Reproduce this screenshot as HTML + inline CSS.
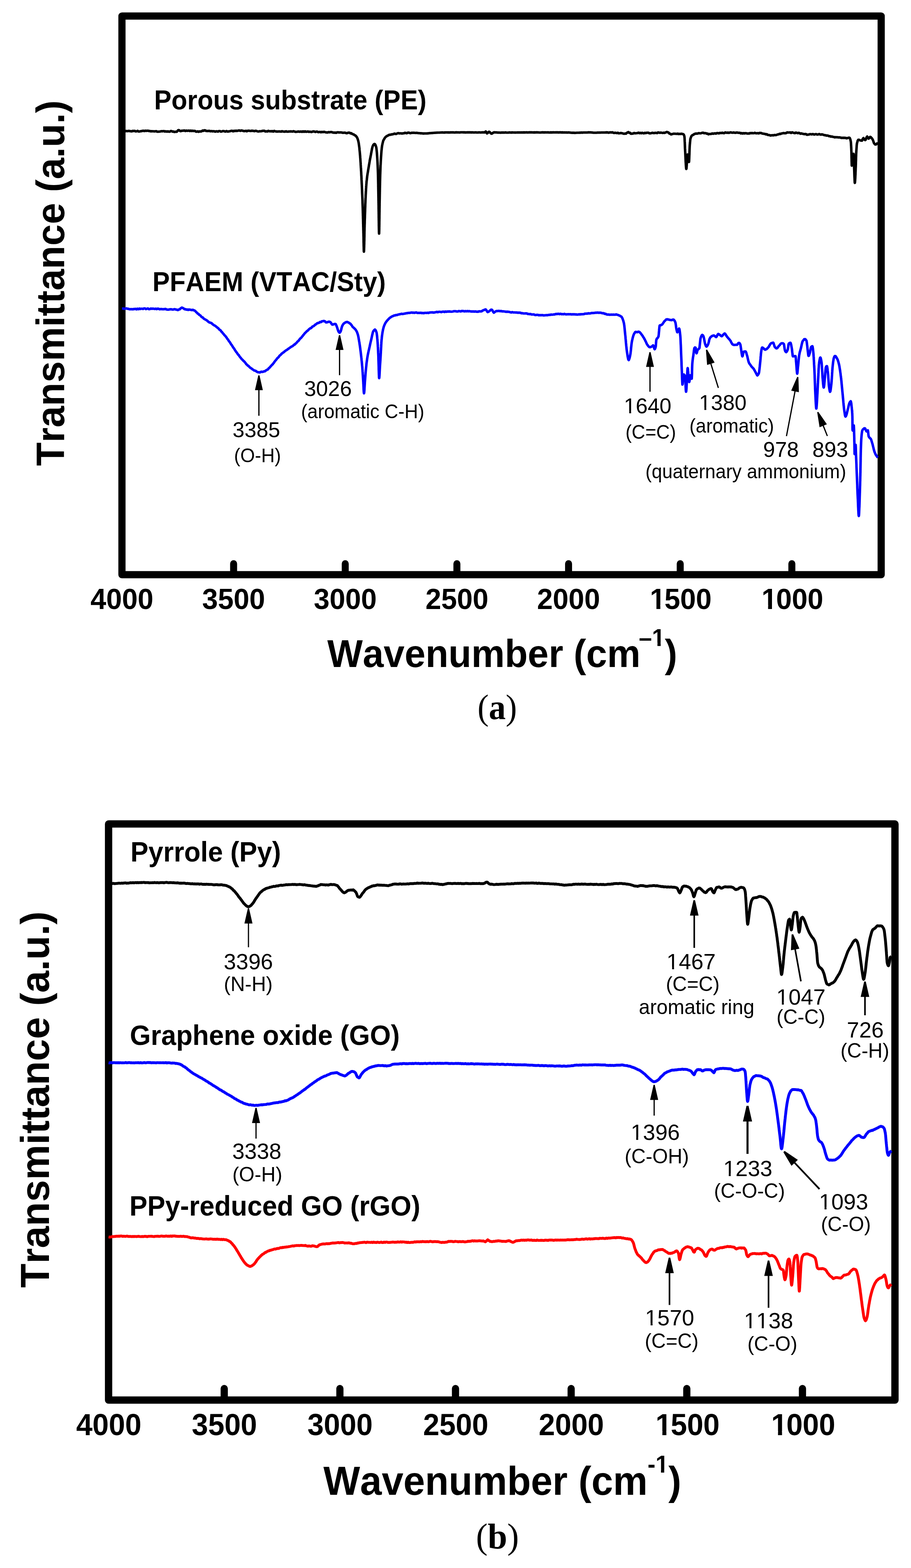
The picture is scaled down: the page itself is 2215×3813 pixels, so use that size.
<!DOCTYPE html>
<html lang="en"><head><meta charset="utf-8"><title>FTIR spectra</title>
<style>
html,body{margin:0;padding:0;background:#fff;}
body{width:2215px;height:3813px;overflow:hidden;}
svg{display:block;}
text{fill:#000;font-kerning:none;font-variant-ligatures:none;white-space:pre;}
.b{font-family:"Liberation Sans",Arial,Helvetica,sans-serif;font-weight:bold;}
.r{font-family:"Liberation Sans",Arial,Helvetica,sans-serif;font-weight:normal;}
.s{font-family:"Liberation Serif","Times New Roman",serif;font-weight:normal;}
.sb{font-family:"Liberation Serif","Times New Roman",serif;font-weight:bold;}
.cv{fill:none;stroke-linejoin:round;stroke-linecap:butt;}
.fr{fill:none;stroke:#000;stroke-linejoin:round;}
.tk{stroke:#000;stroke-linecap:round;}
.m{fill:#fff;}
</style></head><body>
<svg width="2215" height="3813" viewBox="0 0 2215 3813">
<rect width="2215" height="3813" fill="#fff"/>
<g id="chart-a">
<rect class="fr" x="296.5" y="39" width="1846" height="1358.5" stroke-width="17.5"/>
<text class="b" font-size="69.5" transform="translate(219.97 1481) scale(0.99 1)">4000</text>
<line class="tk" x1="568" y1="1395.5" x2="568" y2="1370.8" stroke-width="17"/>
<text class="b" font-size="69.5" transform="translate(491.44 1481) scale(0.99 1)">3500</text>
<line class="tk" x1="839.4" y1="1395.5" x2="839.4" y2="1370.8" stroke-width="17"/>
<text class="b" font-size="69.5" transform="translate(762.91 1481) scale(0.99 1)">3000</text>
<line class="tk" x1="1110.9" y1="1395.5" x2="1110.9" y2="1370.8" stroke-width="17"/>
<text class="b" font-size="69.5" transform="translate(1034.38 1481) scale(0.99 1)">2500</text>
<line class="tk" x1="1382.4" y1="1395.5" x2="1382.4" y2="1370.8" stroke-width="17"/>
<text class="b" font-size="69.5" transform="translate(1305.85 1481) scale(0.99 1)">2000</text>
<line class="tk" x1="1653.9" y1="1395.5" x2="1653.9" y2="1370.8" stroke-width="17"/>
<g transform="translate(1577.32 1481) scale(0.99 1)"><text class="b" font-size="69.5" dx="2.71 -2.71 0 0">1500</text><rect class="m" x="5" y="-9.18" width="13.93" height="11.26"/><rect class="m" x="28.47" y="-9.18" width="13.05" height="11.26"/></g>
<line class="tk" x1="1925.3" y1="1395.5" x2="1925.3" y2="1370.8" stroke-width="17"/>
<g transform="translate(1848.79 1481) scale(0.99 1)"><text class="b" font-size="69.5" dx="2.71 -2.71 0 0">1000</text><rect class="m" x="5" y="-9.18" width="13.93" height="11.26"/><rect class="m" x="28.47" y="-9.18" width="13.05" height="11.26"/></g>
<text class="b" font-size="67" transform="translate(374.78 266.1) scale(0.9413 1)">Porous substrate (PE)</text>
<text class="b" font-size="67" transform="translate(370.78 707.5) scale(0.9409 1)">PFAEM (VTAC/Sty)</text>
<text class="r" font-size="52" transform="translate(565.61 1062.5) scale(1 1)">3385</text>
<text class="r" font-size="47.6" transform="translate(568.94 1123.8) scale(0.961 1)">(O-H)</text>
<text class="r" font-size="52" transform="translate(739.66 963.3) scale(1 1)">3026</text>
<text class="r" font-size="47.6" transform="translate(732.01 1017.4) scale(0.961 1)">(aromatic C-H)</text>
<g transform="translate(1516.82 1005) scale(1 1)"><text class="r" font-size="52">1640</text><rect class="m" x="2.4" y="-5.44" width="10.68" height="7"/><rect class="m" x="17.67" y="-5.44" width="10.27" height="7"/></g>
<text class="r" font-size="47.6" transform="translate(1520.63 1066.5) scale(0.961 1)">(C=C)</text>
<g transform="translate(1699.57 997) scale(1 1)"><text class="r" font-size="52">1380</text><rect class="m" x="2.4" y="-5.44" width="10.68" height="7"/><rect class="m" x="17.67" y="-5.44" width="10.27" height="7"/></g>
<text class="r" font-size="47.6" transform="translate(1676.27 1051.6) scale(0.961 1)">(aromatic)</text>
<text class="r" font-size="52" transform="translate(1855.48 1110.5) scale(1 1)">978</text>
<text class="r" font-size="52" transform="translate(1975.33 1110.5) scale(1 1)">893</text>
<text class="r" font-size="47.6" transform="translate(1569.35 1163) scale(0.961 1)">(quaternary ammonium)</text>
<path class="cv" d="M296.5 318.5 298.9 318.5 301.3 318.7 303.7 319.4 306.1 318.6 308.5 318.7 310.9 318.9 313.2 318.2 315.6 318.9 318 319.1 320.4 319.5 322.8 318.2 325.2 318.6 327.6 318.3 330 319.6 332.3 319.3 334.6 318.2 336.9 319.8 339.2 319.7 341.5 319.1 343.8 319 346.2 318.2 348.5 317.9 350.8 318.7 353.1 317.9 355.4 318.1 357.7 318.1 360 317.8 362.2 318.6 364.4 318.6 366.7 319.4 368.9 319 371.1 319.3 373.3 319.2 375.6 319.6 377.8 319.3 380 319 382.4 320.3 384.7 320.3 387.1 320 389.4 319.8 391.8 319.1 394.1 319 396.5 319.1 398.8 318.7 401.2 319.9 403.5 319.3 405.9 320.1 408.2 319.3 410.6 320.3 412.9 320.1 415.3 318.6 417.6 319 420 320.2 422 319.7 424 321 426 320.6 428 320.3 429.5 320.5 431 319.3 432.5 317.2 434 316.3 436 317 438 318.8 440 318.9 442.1 317.8 444.3 318 446.4 317.6 448.6 317.4 450.7 318.6 452.9 317.5 455 318.1 457.1 317.9 459.3 317.5 461.4 318.6 463.6 317.6 465.7 318.6 467.9 317.8 470 318.5 472.1 318.3 474.3 318.6 476.4 320.1 478.6 320.1 480.7 319.4 482.9 320.6 485 319.5 487 319.6 489 319.8 491 318.8 493 317.3 495 318.2 497 316.7 499 317.1 501 318.5 503 318.4 505 318.7 507.3 318.3 509.5 318.4 511.8 319.3 514.1 318.7 516.4 319.4 518.6 319 520.9 319.2 523.2 320.1 525.5 319.3 527.7 319.4 530 320 532.3 318.7 534.6 318.7 536.9 320 539.2 319.8 541.5 318.8 543.8 318.7 546.2 319.6 548.5 320 550.8 318.6 553.1 319.9 555.4 319.8 557.7 319.2 560 318.9 562.2 318.2 564.4 318 566.7 319.4 568.9 318 571.1 318.6 573.3 317.7 575.6 318.5 577.8 318 580 317.4 582.2 317.2 584.4 318.3 586.7 317.2 588.9 317.6 591.1 318.3 593.3 318.9 595.6 318.6 597.8 318.1 600 319.2 602.4 318 604.8 317.7 607.1 318.2 609.5 318.5 611.9 317.9 614.3 318.1 616.7 318.5 619 318.9 621.4 318.1 623.8 318.5 626.2 319.5 628.6 319.7 631 319.1 633.3 319.2 635.7 319 638.1 318.3 640.5 318.1 642.9 318.1 645.2 319.7 647.6 319.3 650 319.8 652.4 318.2 654.8 319.3 657.1 319 659.5 319.5 661.9 318.8 664.3 320 666.7 318.4 669 319.3 671.4 319.6 673.8 319.9 676.2 319.7 678.6 319.6 681 319.8 683.3 320.1 685.7 319.1 688.1 319.7 690.5 320.1 692.9 320.1 695.2 319.3 697.6 320 700 320.2 702.3 319.7 704.6 319.8 706.9 319.4 709.2 319.8 711.5 319.9 713.8 319 716.2 320 718.5 320.7 720.8 320.5 723.1 320.3 725.4 319.7 727.7 320.4 730 320.1 732.3 319.9 734.6 320.7 736.9 319.3 739.2 320.6 741.5 319.3 743.8 320.4 746.2 320.2 748.5 319.7 750.8 320.6 753.1 320.3 755.4 320.5 757.7 321.1 760 320 762.3 319.6 764.6 320.1 766.8 320.9 769.1 320.1 771.4 320.1 773.7 321.4 775.9 321.1 778.2 320.8 780.5 321.6 782.8 320.7 785.1 321.4 787.3 320.6 789.6 321.1 791.9 321.8 794.2 322.1 796.4 322.1 798.7 321.3 801 321.7 803.4 321.3 805.7 321.1 808.1 321.8 810.4 322.5 812.8 322.6 815.2 322.4 817.5 322.9 819.9 321.8 822.3 321.7 824.6 322.2 827 322 829.3 322 831.7 322.4 834 322.9 836.3 322.8 838.6 322.5 841 323.6 843.3 323.9 845.6 323.1 847.9 322.6 850.2 322.8 852.2 324.5 854.3 323.9 856.3 325.7 858.4 326.5 860.4 327.2 862.2 328.9 864 329.3 865.8 331.1 867.6 333.6 868.3 334.5 869 336.5 869.7 338 870.3 340.1 871 342.5 871.7 345.7 872 346.9 872.3 348.6 872.5 350.4 872.8 352.4 873.1 354.6 873.4 356.9 873.7 359.2 874 361.9 874.2 364.5 874.5 367.2 874.8 370.2 875 372 875.1 373.8 875.3 375.9 875.5 378 875.7 380.3 875.8 382.5 876 384.9 876.2 387.4 876.3 389.8 876.5 392.4 876.7 395.1 876.9 397.5 877 400.4 877.2 403 877.3 404.9 877.4 407 877.6 409 877.7 411.1 877.8 413.2 877.9 415.3 878.1 417.5 878.2 419.7 878.3 422 878.4 424.2 878.5 426.6 878.7 428.8 878.8 431.3 878.9 433.7 879 436.2 879.2 438.6 879.3 441.1 879.4 443.7 879.5 446.3 879.7 448.9 879.8 451.5 879.9 454.2 880 456.2 880.1 458.3 880.2 460.3 880.3 462.4 880.4 464.4 880.4 466.6 880.5 468.8 880.6 471 880.7 473.2 880.8 475.4 880.9 477.8 881 480 881.1 482.5 881.2 484.8 881.3 487.2 881.4 489.8 881.4 492.2 881.5 494.8 881.6 497.4 881.7 500 881.8 502.7 881.9 505.4 882 507.4 882 509.4 882.1 511.6 882.2 513.7 882.2 515.9 882.3 518.1 882.4 520.4 882.4 522.7 882.5 525.1 882.6 527.4 882.6 529.9 882.7 532.3 882.8 534.7 882.8 537.2 882.9 539.7 882.9 542.2 883 544.6 883.1 547.1 883.1 549.7 883.2 552.1 883.3 554.6 883.3 557.1 883.4 559.6 883.5 562 883.5 564.5 883.6 566.9 883.7 569.4 883.7 572 883.8 574.9 883.9 577.9 883.9 581 884 584.1 884 587.3 884.1 590.4 884.2 593.5 884.2 596.5 884.3 599.3 884.4 602 884.4 604.4 884.5 606.5 884.5 608.4 884.6 609.9 884.7 611.1 884.7 611.8 884.8 612 884.9 611.8 884.9 611.3 885 610.5 885.1 609.4 885.1 608 885.2 606.4 885.2 604.5 885.3 602.4 885.4 600.1 885.4 597.7 885.5 595.1 885.6 592.3 885.6 589.5 885.7 586.5 885.8 583.5 885.8 580.4 885.9 577.3 886 574.2 886 571 886.1 568 886.1 564.9 886.2 561.9 886.3 559 886.3 556.2 886.4 553.5 886.5 550.9 886.5 548.6 886.6 546.4 886.7 543.8 886.8 541.2 886.8 538.5 886.9 535.9 887 533.2 887.1 530.6 887.2 528 887.2 525.5 887.3 522.8 887.4 520.3 887.5 517.8 887.6 515.2 887.7 512.8 887.7 510.4 887.8 507.9 887.9 505.6 888 503.3 888.1 501 888.1 498.8 888.2 496.7 888.3 494.5 888.4 492.5 888.5 490.4 888.5 488.5 888.6 486.7 888.7 484.9 888.8 482 889 479.2 889.1 476.5 889.2 473.8 889.4 471 889.5 468.4 889.6 465.9 889.8 463.4 889.9 461.1 890 458.7 890.2 456.5 890.3 454.4 890.4 452.3 890.6 450.5 890.7 448.7 890.8 447 891 445.3 891.1 443.8 891.4 440.5 891.8 437.6 892.1 434.8 892.4 432.1 892.7 429.3 893 426.9 893.4 424.9 893.7 422.6 894 420.7 894.4 418.6 894.7 416.7 895 414.8 895.3 412.8 895.6 411 896 408.8 896.3 407.1 896.7 404.7 897.1 402 897.5 399.8 897.9 397.6 898.3 395.2 898.7 392.9 899 390.7 899.4 388.7 899.8 386.4 900.2 384.7 900.6 382.6 901 380.5 901.4 378.5 901.9 376 902.3 373.4 902.8 370.9 903.3 368.3 903.7 366 904.2 363.6 904.6 361 905.1 359.3 905.6 357.5 906 356 906.5 354.9 907.9 352.2 909.2 350.8 910.6 350.1 911.6 350.5 912.7 352.2 913.7 354.8 914.7 357.8 914.9 358.8 915.1 359.9 915.3 361.4 915.5 363.1 915.7 365 915.9 367.2 916.2 369.6 916.4 372.1 916.6 374.7 916.8 377.7 917 380.5 917.2 383.5 917.4 386.6 917.5 388.2 917.6 389.8 917.7 391.5 917.8 393.4 917.9 395.2 918 397.2 918.1 399.4 918.2 401.6 918.3 403.8 918.4 406.3 918.5 408.9 918.6 411.5 918.7 414.3 918.8 417.1 918.9 420.2 919 423.4 919 424.9 919.1 426.6 919.1 428.4 919.2 430.3 919.2 432.3 919.3 434.4 919.3 436.6 919.4 438.9 919.4 441.2 919.5 443.6 919.5 446 919.6 448.5 919.6 451 919.6 453.6 919.7 456.2 919.7 458.8 919.8 461.5 919.8 464.1 919.9 466.8 919.9 469.5 920 472.1 920 474.8 920.1 477.3 920.1 479.9 920.2 482.4 920.2 484.9 920.2 487.2 920.3 489.7 920.3 492.3 920.4 495 920.4 497.9 920.5 500.8 920.5 503.7 920.5 506.8 920.6 509.8 920.6 513 920.7 516.1 920.7 519.3 920.8 522.5 920.8 525.6 920.8 528.7 920.9 531.8 920.9 534.9 921 537.8 921 540.8 921.1 543.6 921.1 546.3 921.1 549 921.2 551.5 921.2 553.9 921.3 556.1 921.3 558.2 921.4 560.1 921.4 561.8 921.4 563.4 921.5 564.7 921.5 565.8 921.6 566.7 921.6 567.4 921.7 567.7 921.7 567.9 921.7 567.8 921.8 567.3 921.8 566.6 921.9 565.7 921.9 564.5 921.9 563.1 922 561.5 922 559.7 922.1 557.7 922.1 555.6 922.1 553.3 922.2 550.8 922.2 548.2 922.3 545.5 922.3 542.6 922.3 539.8 922.4 536.8 922.4 533.7 922.5 530.6 922.5 527.4 922.5 524.3 922.6 521.1 922.6 517.9 922.7 514.8 922.7 511.7 922.7 508.6 922.8 505.5 922.8 502.6 922.9 499.7 922.9 496.9 922.9 494.2 923 491.7 923 489.3 923.1 487 923.1 484.9 923.2 482.2 923.2 479.5 923.3 476.7 923.3 474 923.4 471.3 923.4 468.6 923.5 466 923.5 463.3 923.6 460.7 923.6 458 923.7 455.5 923.7 453 923.8 450.5 923.9 448 923.9 445.6 924 443.3 924 441 924.1 438.7 924.1 436.5 924.2 434.4 924.2 432.4 924.3 430.5 924.3 428.5 924.4 426.8 924.4 425.1 924.5 423.4 924.6 420.4 924.7 417.4 924.8 414.6 924.9 411.8 925 409.1 925.1 406.5 925.2 404.1 925.3 401.7 925.5 399.4 925.6 397.2 925.7 395.1 925.8 393.1 925.9 391.1 926 389.3 926.1 387.4 926.2 385.7 926.3 384.1 926.4 382.4 926.6 379.5 926.8 376.7 927 373.9 927.2 371.2 927.4 368.6 927.6 366.2 927.9 364 928.1 361.8 928.3 359.8 928.5 358.1 928.7 356.5 928.9 355.1 929.1 353.9 929.7 351 930.3 348.1 930.9 346 931.4 343.6 932 341.9 932.6 340.5 933.2 339.7 934.6 337.4 936 334.8 937.5 333.3 938.9 332 940.3 331.1 942.4 329.9 944.4 328.9 946.5 327.8 948.5 327.6 950.6 327.4 952.6 326.5 954.7 326.6 957 325.9 959.3 324.9 961.5 325.6 963.8 325.6 966.1 324.4 968.4 323.7 970.6 324.4 972.9 324.3 975.2 324.2 977.6 324.8 979.9 324.1 982.3 324.3 984.6 322.8 987 323.6 989.4 323.9 991.7 322.6 994.1 322.5 996.5 323.6 998.8 323.8 1001.2 322.8 1003.5 323.1 1005.9 322.8 1008.1 323.1 1010.3 323.2 1012.5 323.1 1014.8 323.3 1017 323.7 1019.2 323.8 1021.4 324.1 1023.6 324.1 1025.8 324.2 1028.1 324.6 1030.3 324.6 1032.5 324.5 1034.8 324.5 1037.1 324.5 1039.4 324.4 1041.7 324.3 1044 323.8 1046.2 323.8 1048.5 323.5 1050.8 323.4 1053.1 323.2 1055.4 323 1057.7 322.9 1060 322.8 1062.1 322.6 1064.3 322.5 1066.4 322.5 1068.6 322.5 1070.7 322.2 1072.9 322.2 1075 322 1077.4 322.3 1079.7 322.4 1082.1 322.1 1084.5 322 1086.8 322 1089.2 322.1 1091.6 322 1093.9 322.3 1096.3 321.8 1098.7 322 1101.1 321.8 1103.4 322.1 1105.8 322.2 1108.2 321.9 1110.5 321.8 1112.9 322 1115.3 322 1117.6 322.2 1120 321.8 1122.3 321.8 1124.6 321.8 1127 321.9 1129.3 321.9 1131.6 322.1 1133.9 322 1136.2 321.9 1138.6 321.8 1140.9 321.9 1143.2 321.8 1145.5 322.1 1147.8 321.9 1150.2 322 1152.5 322.2 1154.8 322 1157.1 321.9 1159.4 322.2 1161.8 322.2 1164.1 321.9 1166.4 322 1168.7 322.2 1171 322 1173.4 321.9 1175.7 321.8 1178 322.2 1179.5 321 1181 319.8 1182 321 1183 323.3 1184 324.4 1185.7 323.6 1187.3 321.6 1189 320.4 1190.5 321 1192 322.7 1193.5 324.3 1195 325.1 1197 324.3 1199 322.8 1201 321.9 1203.3 321.9 1205.7 322 1208 322.1 1210.3 322.5 1212.7 322.4 1215 322.5 1217.3 322.6 1219.7 322.3 1222 322.4 1224.4 322.2 1226.7 322.5 1229.1 322.1 1231.4 322.5 1233.8 322.5 1236.1 322.5 1238.4 322.1 1240.8 322.2 1243.1 322.4 1245.5 322.1 1247.8 322.2 1250.2 322.2 1252.5 322.4 1254.8 322.2 1257.2 322.3 1259.5 322 1261.9 322.3 1264.2 322.1 1266.6 322.3 1268.9 321.9 1271.2 322.2 1273.6 321.9 1275.9 322.1 1278.3 322 1280.6 321.8 1283 322.2 1285.3 321.9 1287.7 321.9 1290 321.8 1292.4 321.9 1294.7 322 1297.1 322.1 1299.4 321.9 1301.8 322.1 1304.1 321.8 1306.5 321.9 1308.8 322 1311.2 322.2 1313.5 322.2 1315.9 322.1 1318.2 321.8 1320.6 321.9 1322.9 322.1 1325.3 321.9 1327.6 322 1330 322 1332.4 321.8 1334.7 322.2 1337.1 322.1 1339.4 321.9 1341.8 322.1 1344.1 321.9 1346.5 321.9 1348.8 322 1351.2 321.9 1353.5 321.9 1355.9 321.9 1358.2 322.1 1360.6 321.9 1362.9 321.8 1365.3 322.1 1367.6 321.9 1370 322.2 1372.3 322 1374.6 322.2 1376.9 322.1 1379.2 322.4 1381.5 322.1 1383.8 322.3 1386.2 322.4 1388.5 322.8 1390.8 322.9 1393.1 322.7 1395.4 322.9 1397.7 323.1 1400 323 1402.3 322.8 1404.6 322.8 1406.9 322.7 1409.2 322.6 1411.5 322.6 1413.8 322.3 1416.2 322.6 1418.5 322.3 1420.8 322.2 1423.1 322.2 1425.4 322.2 1427.7 322.2 1430 321.9 1432.2 321.9 1434.4 322 1436.7 321.9 1438.9 322.2 1441.1 322.4 1443.3 322.7 1445.6 322.7 1447.8 322.7 1450 322.7 1452.3 322.4 1454.6 322.5 1456.9 322.4 1459.2 322.5 1461.5 322.2 1463.8 322.3 1466.2 322.3 1468.5 322.3 1470.8 322.3 1473.1 322.1 1475.4 321.9 1477.7 322.1 1480 322.7 1482.2 322.1 1484.4 321.8 1486.7 322.2 1488.9 321.6 1491.1 322.8 1493.3 323.4 1495.6 322.7 1497.8 323.2 1500 323.6 1502.2 322.7 1504.4 324.2 1506.7 323.9 1508.9 323.5 1511.1 323.6 1513.3 324.1 1515.6 324.9 1517.8 325.3 1520 324.7 1522 325.1 1523.9 323.2 1525.8 322.2 1527.8 321.2 1529.8 322.9 1531.7 322.8 1533.6 325.1 1535.6 325.1 1537.7 324.9 1539.8 324.5 1541.8 323.4 1543.9 324.1 1546 324 1548.2 323.8 1550.4 323.4 1552.5 322.6 1554.7 323.9 1556.9 323 1559.1 324.1 1561.3 323 1563.5 323.7 1565.6 324.2 1567.8 323 1570 323.7 1572.3 322.8 1574.6 322.7 1576.9 322.9 1579.2 324.3 1581.5 324.2 1583.8 323.6 1586.2 322.9 1588.5 323.5 1590.8 323.6 1593.1 322.9 1595.4 323.2 1597.7 323.6 1600 322.1 1602.3 322.5 1604.6 323 1606.9 322.4 1609.1 322.9 1611.4 323.3 1613.7 322.6 1616 323.2 1617.7 322.3 1619.5 321.7 1621.2 320.9 1623.3 321.8 1625.4 322.3 1627.4 324.7 1629.5 325.3 1631.6 326.9 1633.7 326.3 1635.8 325.6 1637.9 325.1 1640 325.2 1642 325.3 1643.9 325.5 1645.9 325.5 1647.8 325 1649.8 325.9 1652.1 325.6 1654.5 325.8 1656.8 325.2 1659.2 325.7 1661.5 326.4 1662.3 327.3 1663.2 328.8 1664 331.5 1664.1 332.2 1664.2 333.4 1664.4 334.8 1664.5 336.6 1664.6 338.9 1664.7 341.3 1664.8 343.9 1665 346.6 1665.1 349.4 1665.2 352.2 1665.3 355.2 1665.4 357.9 1665.5 360.7 1665.7 363.3 1665.8 365.7 1665.9 367.9 1666.1 370.6 1666.2 373.6 1666.4 376.6 1666.5 379.7 1666.7 382.9 1666.8 386.1 1667 389.2 1667.1 392.2 1667.3 395.4 1667.5 398.2 1667.6 400.8 1667.8 403.2 1667.9 405.3 1668.1 407.2 1668.2 408.6 1668.4 409.8 1668.5 410.5 1668.7 410.8 1668.9 410.2 1669.1 409.1 1669.3 407 1669.5 404.6 1669.7 401.7 1669.9 398.3 1670.1 394.9 1670.4 391.4 1670.6 388 1670.8 384.7 1671 381.9 1671.2 379.4 1671.4 377.4 1671.6 376.1 1671.8 375.7 1672.2 376.3 1672.7 378.3 1673.1 381.6 1673.5 384.7 1673.9 388.1 1674.3 391.2 1674.8 393.2 1675.2 393.8 1675.3 393.5 1675.4 392.6 1675.5 391.3 1675.6 389.4 1675.7 387.1 1675.8 384.7 1675.9 381.8 1676 378.9 1676.2 375.8 1676.3 372.7 1676.4 369.6 1676.5 366.5 1676.6 363.7 1676.7 360.9 1676.8 358.6 1676.9 356.5 1677 354.8 1677.2 351.8 1677.5 348.7 1677.7 346.1 1678 343.5 1678.2 341.2 1678.4 339.1 1678.7 337.8 1678.9 336.8 1680.1 333.5 1681.2 331 1682.3 329.6 1683.5 328.7 1685.7 327.9 1687.8 326.1 1690 325.3 1692.2 324.7 1694.3 324.9 1696.5 324.7 1698.7 323.8 1700.9 324.1 1703.1 324.3 1705.4 323.6 1707.6 322.8 1709.8 322.9 1712 323.9 1714.1 323.7 1716.2 323.8 1718.3 325.1 1720.4 324.9 1722.5 326.6 1724.8 325.7 1727.1 325.7 1729.4 325.6 1731.7 324.5 1734 325.3 1736.3 324.5 1738.6 324.2 1740.9 325 1743.2 323.6 1745.4 323.8 1747.7 324.4 1749.9 323.4 1752.1 323.2 1754.3 323.5 1756.6 322.7 1758.8 323.8 1761 323.8 1763.3 322 1765.5 322.6 1767.7 323 1769.9 322.3 1772.2 323.2 1774.4 322.4 1776.7 321.8 1779 322.5 1781.3 322.7 1783.6 322.1 1785.9 322.7 1788.2 322.9 1790.5 322.4 1792.8 322.4 1795.1 323 1797.2 322.9 1799.3 323.1 1801.3 324.4 1803.4 323.6 1805.5 324.8 1807.8 323.7 1810.1 324.5 1812.4 323.8 1814.7 324.1 1817 324.7 1819.3 324.6 1821.6 324.6 1823.9 323.6 1826.1 324 1828.4 323.4 1830.7 324 1833 323.8 1835.3 323 1837.6 323.9 1839.9 324.1 1842.2 323.8 1844.5 324.4 1846.7 323.3 1848.9 323.4 1851.1 323.5 1853.4 324.7 1855.6 325.1 1857.8 325.5 1860 325.6 1862.3 326.9 1864.5 326.3 1866.8 328.2 1869.1 328.2 1871.4 328.7 1873.7 329.6 1875.9 329 1878.2 328.9 1880.4 329.1 1882.6 328.4 1884.7 328.5 1886.9 328.5 1889.1 327.7 1891.3 326.7 1893.5 326.6 1895.6 325.3 1897.8 325.9 1900 324.5 1902.4 324.2 1904.7 323.6 1907.1 324 1909.5 323.9 1911.8 323.4 1914.2 321.9 1916.5 322.3 1918.9 322.2 1921.2 321.9 1923.5 323.3 1925.8 321.7 1928.2 322.6 1930.5 323.2 1932.8 323.8 1935.1 322.4 1937.4 323.1 1939.6 323.8 1941.9 323 1944.1 323.7 1946.3 325.2 1948.6 324.4 1950.8 325.3 1953.1 325.6 1955.3 326.2 1957.5 325.9 1959.8 326.1 1962 327.7 1964.3 327.4 1966.6 327.3 1968.8 326.3 1971.1 326.3 1973.4 326.8 1975.7 326.1 1977.9 326.5 1980.2 327.3 1982.5 326.3 1984.8 326.2 1987.1 327.4 1989.3 326.9 1991.6 326 1993.9 326.8 1996.2 327.5 1998.4 326.7 2000.7 327.4 2003 328.2 2005 328.8 2007.1 328.7 2009.1 329.7 2011.2 329.5 2013.2 329.8 2015.5 331.1 2017.8 331 2020.1 332.2 2022.4 331.9 2024.7 332.7 2027 333 2029.3 333.9 2031.6 333.6 2033.9 333.7 2036.3 333.8 2038.6 334.3 2041 334.1 2043.3 334.4 2045.7 335.4 2048 335 2050.1 335.5 2052.1 334.8 2054.2 335.5 2056.2 335.3 2058.3 336.4 2060.1 335.8 2061.9 335.4 2063.7 334.8 2065.5 335 2066.2 335.9 2067 337.5 2067.8 340.3 2068.5 343.5 2068.6 344.1 2068.8 345.4 2068.9 346.9 2069.1 348.9 2069.2 351 2069.3 353.5 2069.5 356.1 2069.6 359 2069.8 361.9 2069.9 365.2 2070.1 368.5 2070.2 371.9 2070.3 373.8 2070.3 376.1 2070.4 378.9 2070.4 381.8 2070.5 385 2070.6 388.2 2070.6 391.4 2070.7 394.3 2070.8 397 2070.8 399.4 2070.9 401.1 2070.9 402.3 2071 402.7 2071.5 402 2072 400 2072.5 397.9 2073 394.9 2073.2 393.3 2073.5 390.8 2073.7 387.7 2073.9 384.6 2074.2 381.4 2074.4 378.6 2074.6 376.2 2074.9 374.6 2075.1 374.1 2075.2 374.2 2075.3 375 2075.4 376.3 2075.5 377.9 2075.6 379.8 2075.7 382.1 2075.8 384.7 2075.9 387.5 2076.1 390.4 2076.2 393.3 2076.3 396.2 2076.4 399.3 2076.5 402.2 2076.6 404.9 2076.7 407.6 2076.8 410 2076.9 412.5 2077 415.2 2077.1 418 2077.2 421 2077.3 424 2077.4 427.1 2077.5 430.2 2077.7 433 2077.8 435.8 2077.9 438.2 2078 440.4 2078.1 442.2 2078.2 443.5 2078.3 444.4 2078.4 444.7 2078.5 444.4 2078.7 443.9 2078.8 442.8 2078.9 441.5 2079.1 439.9 2079.2 437.9 2079.3 435.7 2079.5 433.3 2079.6 430.7 2079.7 427.8 2079.9 424.9 2080 421.8 2080.1 418.7 2080.3 415.5 2080.4 412.2 2080.5 409 2080.7 405.8 2080.8 402.7 2080.9 400.8 2081 398.5 2081 396.1 2081.1 393.5 2081.2 390.8 2081.3 388.1 2081.3 385.4 2081.4 382.6 2081.5 380 2081.6 377.7 2081.6 375.4 2081.7 373.6 2081.8 372 2082 368.8 2082.2 365.5 2082.4 362.6 2082.6 359.9 2082.8 357.3 2082.9 355 2083.1 352.9 2083.3 351.1 2083.5 349.5 2083.7 348.3 2083.9 347.5 2084.7 344.8 2085.4 342.1 2086.2 341 2087 339.9 2089.1 340 2091.1 341.3 2093.1 341.7 2095.2 342.1 2096.2 341.8 2097.2 338.9 2098.3 336.8 2099.3 335.8 2100.7 337.6 2102 339.6 2103.4 340.7 2104.4 340.3 2105.4 337.9 2106.5 335 2107.5 333 2108.5 332.1 2109.5 333.4 2110.6 335.9 2111.6 337.2 2113 336.4 2114.3 334.6 2115.7 332.8 2117.2 333.4 2118.8 335.4 2120.3 336.7 2121.8 339.4 2122.6 341 2123.4 343.4 2124.3 346.1 2125.1 348.2 2125.9 349.2 2127.4 351 2129 351.5 2130.8 350.8 2132.5 348.9 2134.3 347.1" stroke="#000000" stroke-width="6.1"/>
<path class="cv" d="M296.7 750.1 298.9 750.2 301.2 750.7 303.4 750.9 305.6 750.2 307.9 750.1 310.1 750.9 312.3 750.9 314.6 752 316.8 751.9 319 751.9 321.3 751.9 323.5 752.1 325.7 751.2 327.9 751.6 330.1 751 332.3 752.3 334.5 750.6 336.8 751.9 339 750.4 341.2 751.4 343.4 750.7 345.6 750.7 347.8 751.4 350 750 352.4 750 354.7 751.6 357.1 750.9 359.5 750.1 361.9 751.8 364.2 751.7 366.6 750.3 369 750.9 371.3 750.4 373.7 750.8 376.1 751.4 378.5 750.6 380.9 751.6 383.3 750.6 385.7 750.9 388 752.1 390.4 751.5 392.8 751.6 395.2 752 397.6 751.9 400 751.8 402.4 751.2 404.8 752.5 407.2 753 409.6 753 411.9 752.5 414.3 752 416.7 752.1 419.1 752.7 421.5 752.7 423.9 751.8 425.9 752.2 427.9 752.7 429.9 753.2 431.9 753.9 433.9 753.5 435.6 752.3 437.3 752.1 438.9 750.1 440.6 749 442.3 748 444.4 748.9 446.5 750.1 448.6 752 450.7 751.9 452.9 752.9 455.1 752.6 457.4 753.6 459.6 752.6 461.8 753.2 464 753.4 466.3 754.1 468.5 753.4 470.7 754.4 472.4 754.7 474 755.8 475.7 757.3 477.4 759.4 479.1 760.5 480.7 762.6 482.4 763.1 484.1 765.4 485.8 766.2 487.4 767.4 489.1 769.6 490.8 771.2 492.5 771.6 494.1 773.3 495.8 775.3 497.5 776 499.5 777.3 501.5 778.2 503.5 779.5 505.5 781.5 507.6 783.1 509.6 784.3 511.6 784.8 513.6 785.4 515.6 787 517.6 789 519.5 790.3 521.4 791.4 523.3 792.3 525.3 794.1 527.2 795.5 529.1 797.2 531 798.4 532.5 800.6 534 802 535.6 802.7 537.1 804.5 538.6 806.7 540.1 807.8 541.6 810.3 543.1 811.6 544.7 813.6 546.2 815.5 547.7 816.8 549.1 818.6 550.5 820.4 551.9 822.7 553.3 824.6 554.7 826 556 828.7 557.4 830.3 558.8 832.1 560.2 834.3 561.6 836.9 563 838.5 564.4 840.6 565.6 842.7 566.8 844.6 568.1 846.3 569.3 847.8 570.5 849.9 571.7 852.1 572.9 853.8 574.1 855.5 575.4 857.1 576.6 858.8 577.8 860.8 579.3 862.6 580.8 863.9 582.3 866.5 583.8 868.5 585.2 870.1 586.7 872 588.2 873.7 589.7 875 591.2 876.9 592.7 878.1 594.2 879.5 595.7 881.4 597.2 883 598.6 885.3 600.1 886.6 601.6 888 603.1 889.5 604.6 890.3 606.5 892.4 608.4 894.2 610.3 895.4 612.3 896.7 614.2 898.3 616.1 899.4 618 900.9 620 901.2 621.9 902.1 623.9 903.4 625.8 904.7 627.8 905.3 629.7 905.3 631.7 905.8 633.7 904.7 635.8 903.9 637.8 904.4 639.8 904 641.8 903.1 643.8 903 645.8 901.4 647.8 900.1 649.8 898.9 651.5 898.4 653.1 895.8 654.8 894.6 656.5 892.7 658.2 890.7 659.8 889.1 661.5 887 663 886 664.5 883.8 666 882.1 667.5 879.6 668.9 877.9 670.4 876.1 671.9 874.5 673.4 872.1 674.9 870.6 676.6 869.2 678.2 867.3 679.9 864.8 681.6 863.5 683.3 862 684.9 860 686.6 858.8 688.3 857.4 690.2 856.3 692.1 854.4 694 853.2 696 851.5 697.9 850.7 699.8 849 701.7 847.9 703.6 846.4 705.5 845.1 707.4 843.7 709.4 842.6 711.3 841.7 713.2 840 715.1 838.2 716.8 837.7 718.4 835.6 720.1 834.7 721.8 832.6 723.4 830.6 725.1 829.4 726.7 827.6 728.4 825.2 729.9 823.3 731.5 822.1 733 820.6 734.5 818.5 736 816.9 737.6 814.6 739.1 813.1 740.6 810.9 742.1 809.4 743.7 807.8 745.2 806.3 747.1 804.6 748.9 803.5 750.8 801.1 752.6 799.7 754.5 798.3 756.3 797.8 758.2 795.8 760 793.9 761.9 793.4 763.5 792.3 765 791 766.6 789.3 768.2 788.7 770.2 786.9 772.3 785.5 774.3 785.4 776.4 784.5 778.4 782.9 780.5 783.3 782.5 781.4 784.6 781.3 786.6 780.5 788.7 780.7 790.4 781.6 792.1 783.8 793.8 784 795.8 783.5 797.9 782.8 800 782.3 802 782.7 803.5 783.5 805.1 785.6 806.7 788.4 808.2 789.4 810 789 811.8 788.4 813.5 787.9 815.3 787.7 816.3 788.2 817.3 790.3 818.4 792.9 819.4 795.7 820 797.3 820.6 799.3 821.3 801.5 821.9 803.4 822.5 804.7 823.5 807 824.6 808.3 825.6 809.1 826.6 808.4 827.6 807 828.6 804.9 829.2 803 829.8 800.5 830.5 797.9 831.1 795.4 831.7 793.6 833 790.8 834.2 788.8 835.5 787.2 836.8 786.1 838.6 784.8 840.4 783.8 842.2 783.3 844 782.9 845.8 783.7 847.6 784.4 849.4 785.7 851.2 786.8 852.4 787.7 853.6 789.5 854.9 790.7 856.1 792.7 857.3 794.8 858.7 796 860.2 797.1 861.6 798.7 863.1 799.9 864.5 801.7 865.5 803.1 866.5 804.8 867.6 806.7 868.6 809.3 869.6 812.2 870.1 813.6 870.5 815.3 871 817.4 871.4 819.5 871.9 821.8 872.3 824.6 872.8 827.1 873.2 829.8 873.7 832.4 874 834.4 874.3 836.5 874.6 838.6 875 840.8 875.3 843.1 875.6 845.3 875.9 847.7 876.2 850.3 876.5 852.8 876.9 855.2 877.2 857.8 877.5 860.5 877.8 863.2 878 865.2 878.3 867.3 878.5 869.4 878.8 871.6 879 873.8 879.2 876.1 879.5 878.5 879.7 880.8 879.9 883.2 880.2 885.8 880.4 888.3 880.7 891.1 880.9 893.9 881.1 895.9 881.2 898 881.4 900.2 881.5 902.5 881.7 904.8 881.9 907.2 882 909.7 882.2 912.2 882.4 914.7 882.5 917.2 882.7 919.7 882.8 922.2 883 924.7 883.1 927 883.3 929.6 883.4 932.5 883.6 935.4 883.7 938.5 883.9 941.4 884 944.3 884.1 947.1 884.3 949.6 884.4 951.9 884.6 953.8 884.7 955.1 884.9 956.1 885 956.4 885.2 956 885.4 955.2 885.5 953.8 885.7 951.9 885.9 949.6 886.1 947.1 886.2 944.3 886.4 941.5 886.6 938.4 886.8 935.4 887 932.5 887.1 929.7 887.3 927.1 887.5 924.7 887.7 922.3 887.9 919.7 888.1 917.3 888.3 914.7 888.5 912.2 888.7 909.6 888.9 907.2 889.1 904.8 889.3 902.4 889.5 900.2 889.7 898 889.9 895.9 890.1 893.9 890.4 891.3 890.7 888.7 890.9 886.1 891.2 883.7 891.5 881.3 891.8 879.2 892.1 877 892.4 874.9 892.6 873 892.9 871.2 893.2 869.2 893.7 866.7 894.1 864 894.6 861.5 895.1 859.3 895.5 857.1 896 854.9 896.4 852.9 896.9 850.9 897.4 848.9 897.8 846.8 898.3 844.7 898.8 842.6 899.3 840.1 899.8 837.8 900.3 835.5 900.8 833.4 901.4 830.9 901.9 828.7 902.4 826.7 902.9 824.5 903.4 822.3 903.9 819.9 904.4 817.5 904.9 815 905.5 812.8 906 810.5 906.5 808.5 907 807 907.5 805.7 908.9 803.8 910.2 802.6 911.6 801.4 912.5 802.2 913.5 803.3 914.4 805.6 915.3 808.1 915.6 809 915.9 810.4 916.1 812.1 916.4 814.3 916.7 816.7 917 819.4 917.2 822.2 917.5 825.4 917.8 828.4 917.9 830 918.1 831.7 918.2 833.6 918.3 835.6 918.5 837.7 918.6 839.9 918.7 842.2 918.9 844.6 919 847 919.1 849.6 919.3 852.2 919.4 854.9 919.5 857.7 919.7 860.4 919.8 863.2 919.9 865.2 920 867.4 920.1 869.9 920.1 872.5 920.2 875.3 920.3 878.2 920.4 881.3 920.5 884.3 920.6 887.5 920.7 890.6 920.8 893.8 920.8 896.8 920.9 899.9 921 902.8 921.1 905.6 921.2 908.2 921.3 910.6 921.4 912.8 921.5 914.7 921.5 916.4 921.6 917.7 921.7 918.7 921.8 919.3 921.9 919.5 922.1 919.2 922.2 918.2 922.4 916.7 922.5 914.8 922.7 912.5 922.8 909.9 923 907.1 923.1 904 923.3 901 923.4 898 923.6 895 923.7 892.2 923.9 889.8 924 887.6 924.2 885.4 924.3 883.3 924.5 881.1 924.6 878.9 924.8 876.8 924.9 874.6 925 872.3 925.2 870.1 925.3 867.9 925.5 865.5 925.6 863.2 925.7 860.9 925.9 858.6 926 856 926.1 853.5 926.3 851 926.4 848.4 926.5 845.8 926.7 843.2 926.8 840.7 926.9 838.4 927.1 836 927.2 833.8 927.3 831.8 927.5 830.1 927.6 828.4 927.9 825.5 928.2 822.6 928.4 819.9 928.7 817.6 929 815.2 929.3 813.1 929.5 811.4 929.8 809.6 930.1 807.9 930.6 805.2 931.1 802.5 931.6 800.2 932.2 798 932.7 796 933.2 794.4 933.7 793 934.2 791.7 935.4 788.8 936.5 786.6 937.7 784.4 938.9 782.8 940.1 781.1 941.2 779.8 942.4 778.4 944.1 776.6 945.8 774.9 947.5 773.1 949.2 772 950.9 770.9 952.6 769.7 954.7 768.8 956.7 768.1 958.8 767.1 960.8 766.9 962.9 766 964.9 766.2 967 765.4 969.3 764.7 971.6 764.2 973.9 763.7 976.2 763.1 978.5 763.6 980.8 763.2 983.1 762.6 985.4 762.4 987.7 761.5 990 761.7 992.2 761 994.5 760.9 996.8 760.9 999.1 760.2 1001.3 760.1 1003.6 760.6 1005.9 760.3 1008.1 760.8 1010.3 760 1012.5 759.9 1014.8 761 1017 760.7 1019.2 760.9 1021.4 760.9 1023.6 760.5 1025.8 761.5 1028.1 761 1030.3 761.6 1032.5 760.7 1034.8 760.8 1037.1 761 1039.4 760.6 1041.7 761.1 1044 760.2 1046.2 759.8 1048.5 759.7 1050.8 759.6 1053.1 760.1 1055.4 759.9 1057.7 759.4 1060 759 1062.2 758.4 1064.5 759.3 1066.8 758.3 1069 758.3 1071.2 758.5 1073.5 758.9 1075.8 758 1078.2 757.8 1080.5 758.7 1082.8 757.5 1085.1 758.3 1087.5 757.5 1089.8 757.6 1092.1 757.4 1094.4 757.6 1096.8 758 1099.1 757.8 1101.4 757.4 1103.7 756.8 1106.1 756.8 1108.4 756.9 1110.7 757.4 1113 757.5 1115.4 756.4 1117.7 756.7 1120 757.4 1122.3 756.4 1124.7 756.3 1127 756.5 1129.4 757.3 1131.7 756.5 1134.1 757.1 1136.5 756.4 1138.8 757.1 1141.2 756.6 1143.6 757.2 1145.9 757.4 1148.3 757.6 1150.6 757.2 1153 757.9 1155.4 757.2 1157.7 757.9 1160.1 757.9 1162.5 758.1 1164.8 757 1167.2 757.2 1169.4 757.3 1171.7 756.7 1173.9 754.9 1176.1 754.3 1178.4 753.1 1180.6 752.3 1181.8 753.4 1183.1 755.3 1184.3 757.4 1185.6 758.8 1187.6 758.1 1189.6 756.8 1191.6 755.2 1193.6 753.3 1195.6 753 1196.9 754.1 1198.2 756.6 1199.4 758.8 1200.7 760.4 1202.3 759.3 1204 758.1 1205.7 756.9 1207.3 756.3 1209.5 756.5 1211.8 756 1214 756.1 1216.2 756.8 1218.5 756.2 1220.7 757.3 1222.9 757 1225.2 757.3 1227.4 757.5 1229.6 758.2 1231.9 757.9 1234.1 758.1 1236.3 758.3 1238.6 758.6 1240.8 759.3 1243 759.9 1245.3 759 1247.5 759.7 1249.7 759.7 1252 759.8 1254.2 760 1256.4 759.9 1258.7 760.4 1260.9 760.4 1263.1 760.3 1265.4 760.6 1267.6 761.7 1269.8 761.6 1272.1 762.1 1274.3 762.2 1276.5 762.3 1278.8 762 1281 762.2 1283.2 763.5 1285.5 763.5 1287.7 763.9 1289.9 763.6 1292.2 764.7 1294.4 764.7 1296.6 764.5 1298.9 765 1301.1 766.1 1303.3 766 1305.6 765.6 1307.8 765.7 1310.2 766.6 1312.6 766.3 1315 766.6 1317.3 766.3 1319.7 766.4 1322.1 766.9 1324.5 766.8 1326.7 766.5 1329 766.3 1331.2 766.5 1333.4 765.9 1335.7 765.5 1337.9 765.7 1340.1 764.9 1342.4 765.3 1344.6 765 1346.8 764.6 1349.1 764.6 1351.3 763.5 1353.5 763.6 1355.8 763.4 1358 763 1360.4 763.9 1362.8 763 1365.2 764.1 1367.6 763.8 1370 764.2 1372.3 763.2 1374.7 764.2 1377.1 764.4 1379.5 764.2 1381.9 764.1 1384.3 764.2 1386.7 764.1 1389.1 764.6 1391.5 764.3 1393.9 764.4 1396.2 764.2 1398.6 764.6 1401 764.5 1403.4 765 1405.8 764.8 1408.2 764.3 1410.4 764.7 1412.7 764 1414.9 764.2 1417.1 764 1419.3 764 1421.6 762.9 1423.8 762.7 1426 762.5 1428.2 762.7 1430.5 761.9 1432.7 762.1 1434.9 762.2 1437.2 761.5 1439.6 761.1 1442 761.3 1444.3 760.9 1446.7 760.7 1449 760.2 1451.4 760.6 1453.7 760.1 1456.1 760.8 1458.4 760.2 1460.7 760.5 1463.1 761.2 1465.4 761.8 1467.8 761.5 1470.1 763.2 1472.4 763 1474.8 764.6 1477.1 765 1479.5 764.8 1481.8 765.4 1484.2 765.3 1486.5 765.1 1488.9 765.3 1491.3 765.1 1493.7 765.3 1496 765.3 1498.4 764.5 1500.5 765.4 1502.5 765.9 1504.6 766.8 1506.6 767.5 1508.7 768.8 1510.7 769.9 1511.6 771 1512.5 772.7 1513.4 774 1514.2 776.7 1515.1 778.9 1516 782.1 1516.9 785.7 1517.2 786.7 1517.4 788.4 1517.7 790.3 1517.9 792.2 1518.2 794.5 1518.5 796.8 1518.7 799.5 1519 801.9 1519.2 804.7 1519.5 807.2 1519.7 809.7 1520 812.2 1520.2 814.4 1520.5 816.6 1520.7 818.9 1520.9 821.5 1521.1 823.8 1521.4 826.4 1521.6 828.9 1521.8 831.5 1522 834.1 1522.3 836.5 1522.5 839 1522.7 841.3 1523 843.5 1523.2 845.8 1523.4 847.9 1523.6 849.9 1523.9 851.6 1524.1 853.1 1524.5 856.2 1525 859.5 1525.4 862.4 1525.9 865.4 1526.3 868 1526.8 870.4 1527.2 872.5 1527.7 874.1 1528.1 875 1528.6 875.6 1529.2 874.9 1529.8 873.4 1530.4 871.5 1531.1 869.1 1531.7 866.3 1532.3 863.5 1532.6 861.8 1532.9 860.1 1533.2 857.9 1533.5 855.4 1533.8 852.8 1534.1 850 1534.3 847.2 1534.6 844.4 1534.9 841.8 1535.2 839.2 1535.5 836.6 1535.8 834.4 1536.1 832.4 1536.4 830.7 1537 827.4 1537.7 824.7 1538.3 821.8 1539 819.4 1539.6 817.2 1540.2 815.3 1540.9 813.6 1541.5 812.1 1542.9 810 1544.2 807.8 1545.6 807.1 1547.6 807.5 1549.7 807.7 1551.8 806.6 1553.8 807 1555.3 807.6 1556.8 809.5 1558.4 811.1 1559.9 813.5 1561.1 814.9 1562.2 816.4 1563.4 818.5 1564.6 820.4 1565.8 822.1 1566.9 824.4 1568.1 826.4 1569.1 828.8 1570.2 830.8 1571.2 833 1572.2 835.4 1573.3 837.6 1574.3 838.7 1575.6 840.8 1576.8 842.1 1578.1 843.7 1579.4 844.2 1581.1 844.2 1582.8 843.6 1584.5 842.6 1585.7 842.3 1587 840.3 1588.2 840 1588.9 841.1 1589.6 843 1590.3 845.9 1591 848.2 1591.7 849.2 1592.6 848.2 1593.4 846.1 1594.3 843.2 1594.5 841.6 1594.7 839.1 1594.9 836.2 1595.2 833.1 1595.4 830.2 1595.6 828 1595.8 826.6 1596.8 824 1597.8 823 1598.9 821.7 1599.9 820.4 1600.9 818.2 1601.2 817.3 1601.4 815.5 1601.7 813 1601.9 810.4 1602.2 807.3 1602.5 804.3 1602.7 801.1 1603 798.4 1603.2 795.9 1603.5 793.8 1603.7 792.4 1604 791.6 1605.7 790.8 1607.4 790.6 1609.1 789.6 1610.3 788.7 1611.5 787 1612.8 785.1 1614 783.2 1615.2 781.4 1616.8 780.1 1618.3 778.4 1619.9 776.8 1621.4 776.6 1623.4 776.5 1625.5 777.2 1627.5 777.5 1629.6 778.2 1631.6 778.2 1633.3 778.4 1635.1 777.5 1636.8 777.1 1638.1 777.5 1639.3 778.8 1640.6 780.7 1641.9 783.6 1642.3 784.8 1642.7 786.7 1643.1 789.3 1643.5 792 1643.8 795 1644.2 797.8 1644.6 800.1 1645 801.9 1645.7 804.9 1646.3 807.2 1647 808 1647.8 806.9 1648.6 804.9 1649.5 802 1650.3 800.1 1651.1 799 1651.4 799.2 1651.8 800.1 1652.1 801.5 1652.5 803.5 1652.8 805.9 1653.2 808.7 1653.5 811.7 1653.9 815.1 1654.2 818.3 1654.3 819.6 1654.4 821.1 1654.5 822.7 1654.6 824.6 1654.7 826.7 1654.8 828.9 1654.9 831.2 1655 833.7 1655.1 836.3 1655.3 839 1655.4 841.7 1655.5 844.5 1655.6 847.3 1655.7 850.1 1655.8 852.9 1655.9 855.6 1656 858.3 1656.1 860.9 1656.2 863.4 1656.3 865.6 1656.4 867.8 1656.5 870.1 1656.6 872.4 1656.7 874.7 1656.8 877 1656.9 879.4 1657 881.7 1657.1 884 1657.1 886.3 1657.2 888.6 1657.3 890.9 1657.4 893.2 1657.5 895.5 1657.6 897.7 1657.7 900 1657.8 902.2 1657.9 904.4 1658 907 1658.1 909.9 1658.2 913 1658.3 916.1 1658.4 919.2 1658.5 922.3 1658.7 925.3 1658.8 928 1658.9 930.4 1659 932.4 1659.1 933.8 1659.2 934.9 1659.3 935.2 1659.6 934.7 1659.9 933.1 1660.1 930.8 1660.4 927.8 1660.7 924.6 1661 921.1 1661.3 918.1 1661.6 915 1661.8 912.7 1662.1 911.2 1662.4 910.6 1663.4 911 1664.5 912.5 1665.5 914.6 1665.7 915.5 1665.8 916.9 1666 919 1666.2 921.5 1666.3 924.4 1666.5 927.6 1666.6 931 1666.8 934.5 1667 937.9 1667.1 941.2 1667.3 944.2 1667.4 947 1667.6 949.3 1667.8 951.1 1667.9 952.2 1668.1 952.6 1668.3 952.2 1668.4 951.3 1668.6 949.8 1668.8 947.8 1669 945.4 1669.2 942.6 1669.3 939.7 1669.5 936.7 1669.7 933.6 1669.8 930.5 1670 927.6 1670.2 924.8 1670.3 922.7 1670.5 920 1670.6 917.3 1670.8 914.3 1670.9 911.3 1671 908.2 1671.2 905.3 1671.3 902.6 1671.4 900.2 1671.6 898.1 1671.7 896.6 1671.9 895.5 1672 895.2 1672.2 895.7 1672.5 896.9 1672.7 898.9 1672.9 901.3 1673.2 903.9 1673.4 906.8 1673.6 909.6 1673.9 912.4 1674.1 914.7 1674.4 917.5 1674.6 920.6 1674.9 923.7 1675.2 926.4 1675.4 928.3 1675.7 928.9 1676.1 928.2 1676.6 925.7 1677 922.5 1677.5 919.2 1677.9 915.9 1678.4 913.7 1678.8 912.7 1679.5 913.9 1680.3 916.7 1681 919.6 1681.8 920.9 1681.9 920.4 1682 919.5 1682.1 917.9 1682.2 915.9 1682.3 913.5 1682.4 910.8 1682.5 907.8 1682.5 904.7 1682.6 901.5 1682.7 898.3 1682.8 895.2 1682.9 892.3 1683 889.6 1683.1 887.3 1683.2 885.3 1683.3 883.9 1683.6 880.5 1683.9 877.7 1684.2 875.1 1684.5 873 1684.7 870.8 1685 869 1685.3 867.3 1685.6 865.4 1685.9 863.3 1686.2 860.8 1686.6 858.2 1686.9 855.4 1687.2 852.5 1687.6 850.2 1687.9 848.1 1688.3 846.6 1688.6 846.1 1689.8 844.9 1691.1 845.5 1691.4 845.8 1691.8 847.9 1692.1 850.6 1692.5 853.8 1692.8 856.5 1693.2 858.4 1693.5 859.2 1694.2 858.1 1694.8 855.8 1695.5 852.8 1696.2 850.9 1697.6 849.6 1698.9 848.4 1700.3 846.9 1700.6 846.1 1700.9 844.4 1701.1 842.3 1701.4 839.6 1701.7 836.8 1702 833.8 1702.3 831 1702.6 828 1702.8 825.8 1703.1 823.7 1703.4 822.6 1704.4 819.4 1705.5 816.9 1706.5 815 1707.5 814.4 1708.5 815 1709.5 816.2 1710.5 818.2 1711 820 1711.5 821.8 1712 824.4 1712.5 827.1 1713.1 830.2 1713.6 832.9 1714.1 834.9 1714.6 836.9 1715.6 839.4 1716.7 841.9 1717.7 842.9 1718.7 842.2 1719.8 840.8 1720.8 839 1721.8 837 1722.4 835.1 1723 833 1723.6 830.9 1724.1 828.1 1724.7 825.6 1725.3 824 1725.9 822.7 1727.2 820.4 1728.5 819.1 1729.7 818.2 1731 817.2 1732.7 816.6 1734.4 815.9 1736.1 815.9 1737.8 817.2 1739.6 818.6 1741.3 819.7 1742.6 818.2 1743.8 815.7 1745.1 813.3 1746.4 812 1748 812.7 1749.7 814.2 1751.3 815.2 1753 816.8 1754.6 817.7 1756.4 816.5 1758.2 814.1 1760 812.3 1761.8 810.9 1763.1 811.5 1764.4 813.6 1765.6 815.5 1766.9 817.6 1768.2 819.4 1769.6 820.9 1771.1 822.8 1772.5 824.2 1774 826 1775.4 827.8 1776.6 829.5 1777.8 832.3 1779.1 834.5 1780.3 836.6 1781.5 837.7 1783.8 838.6 1786.1 838.7 1788.4 838.5 1790.7 838.5 1792.2 838.4 1793.8 836.2 1795.4 834.3 1796.9 833.9 1797.9 834.3 1799 835.9 1800 837.7 1800.3 839.1 1800.7 841 1801 843.1 1801.3 845.6 1801.7 848 1802 850.1 1802.4 852.9 1802.9 856 1803.3 859.1 1803.8 861.9 1804.2 864.4 1804.7 866 1805.1 866.5 1805.7 865.6 1806.3 862.9 1807 859.5 1807.6 856.6 1808.2 855.3 1810.2 854.7 1812.3 854.6 1813.1 855 1813.9 856.4 1814.8 858.9 1815.6 862.1 1816.4 864.5 1816.9 866.3 1817.4 868.2 1817.9 870.8 1818.5 873.2 1819 875.4 1819.5 877.5 1820 879.3 1820.5 880.8 1821.5 883.1 1822.5 884.8 1823.6 886.1 1824.6 887.5 1825.6 888.9 1827 891.1 1828.4 892.7 1829.9 894.2 1831.3 895.5 1832.7 897.2 1833.7 899.1 1834.8 900.9 1835.8 902.8 1836.9 904.8 1837.9 906.8 1838.8 908.4 1839.8 910.2 1840.7 912.2 1841.6 913 1842.7 911.8 1843.9 910.1 1845 907.7 1845.3 906.6 1845.6 905 1845.8 903.4 1846.1 901.2 1846.4 898.8 1846.7 896.3 1847 893.7 1847.3 891 1847.5 888.2 1847.8 885.6 1848.1 882.9 1848.3 880.9 1848.6 878.4 1848.8 875.7 1849.1 873 1849.3 870.2 1849.5 867.5 1849.8 864.8 1850 862.2 1850.2 859.7 1850.5 857.4 1850.7 855.3 1851 853.7 1851.2 852.2 1851.7 849.7 1852.2 847.2 1852.7 845.6 1853.2 845.1 1855 845.9 1856.8 847.4 1858.6 849.3 1860.4 850.5 1862 849.5 1863.7 849 1865.3 847.6 1867 845.8 1868.6 844 1869.6 842.8 1870.6 840.5 1871.7 838.8 1872.7 837 1873.7 835.9 1875.8 834.2 1877.8 833.9 1879.9 833.3 1880.7 834.2 1881.5 836.9 1882.4 839.5 1883.2 842.3 1884 843.9 1885.4 845.2 1886.7 846.5 1888.1 847.2 1889.6 846.5 1891.2 844.9 1892.7 842.5 1894.2 840.7 1895.8 839.3 1897.3 837.1 1898.9 835.6 1900.4 834.8 1902.1 834.8 1903.8 834.7 1905.5 836.2 1905.9 836.8 1906.4 838.9 1906.8 841.6 1907.3 845 1907.7 848.1 1908.2 850.5 1908.6 852.2 1909.6 854.5 1910.6 855.6 1911.6 856.4 1912.8 855.2 1914.1 853 1915.3 849.9 1915.7 848.7 1916 846.6 1916.4 843.9 1916.7 841.1 1917.1 838.5 1917.4 836.8 1917.8 835.7 1919.8 833.9 1921.9 833.6 1922.4 834.3 1922.9 835.9 1923.5 838 1924 840.7 1924.5 843.3 1925 846.1 1925.3 848 1925.7 850.7 1926 853.8 1926.3 856.8 1926.7 859.7 1927 862.4 1927.3 864.7 1927.7 866.1 1928 866.6 1930.1 866.2 1932.1 866.1 1934.2 866.1 1934.4 867.1 1934.6 868.4 1934.9 870.4 1935.1 872.9 1935.3 875.6 1935.5 878.7 1935.8 881.6 1936 884.4 1936.2 887 1936.4 889.3 1936.6 892 1936.8 894.8 1937 897.8 1937.2 900.5 1937.5 903 1937.7 905.3 1937.9 907 1938.1 908.3 1938.3 908.7 1938.5 908.2 1938.8 906.7 1939 904.6 1939.3 902 1939.5 899.3 1939.8 896.3 1940 893.6 1940.3 891 1940.6 888.7 1940.8 886.2 1941.1 883.5 1941.3 880.9 1941.6 878.1 1941.8 875.6 1942.1 872.9 1942.4 870.4 1942.6 868.1 1942.9 866 1943.1 864.1 1943.4 862.6 1943.9 859.9 1944.4 857.6 1944.9 855.2 1945.5 853.6 1946 851.6 1946.5 849.9 1947 848.1 1947.5 846 1948 843.8 1948.5 841.5 1949 839.1 1949.5 836.8 1950.1 834.6 1950.6 832.5 1951.1 830.7 1951.6 829.8 1952.9 827.9 1954.2 826.4 1955.4 824.7 1956.7 824.8 1958.1 824.9 1959.4 826.5 1960.8 828.4 1961.1 829.5 1961.4 831.1 1961.7 833.2 1962 835.6 1962.3 838.4 1962.7 841.3 1963 844.2 1963.3 847.2 1963.6 849.8 1963.9 852.1 1964.2 854.8 1964.6 857.7 1964.9 860.6 1965.2 863 1965.6 864.9 1965.9 865.4 1966.7 865.1 1967.5 862.9 1968.2 860.7 1969 858.3 1969.4 856.7 1969.9 854.2 1970.3 851.7 1970.8 849.3 1971.2 846.9 1971.7 844.9 1972.1 843.9 1973.7 842.4 1975.2 841.9 1975.5 842.5 1975.9 844 1976.2 846.1 1976.6 848.7 1976.9 851.7 1977.3 855 1977.6 858.3 1977.7 859.9 1977.9 861.5 1978 863.1 1978.2 865 1978.3 867 1978.5 869.1 1978.6 871.3 1978.7 873.7 1978.9 876 1979 878.5 1979.2 881 1979.3 883.7 1979.4 886.4 1979.6 889.2 1979.7 892 1979.9 894.8 1980 897.6 1980.2 900.5 1980.3 903.4 1980.4 905.4 1980.5 907.4 1980.6 909.6 1980.7 911.8 1980.8 914.1 1980.8 916.6 1980.9 919 1981 921.6 1981.1 924.1 1981.2 926.7 1981.3 929.3 1981.4 931.9 1981.5 934.4 1981.6 937 1981.7 939.5 1981.8 941.9 1981.8 944.3 1981.9 946.5 1982 948.8 1982.1 950.9 1982.2 952.9 1982.3 954.7 1982.4 957.6 1982.6 960.7 1982.7 963.8 1982.9 966.8 1983 970 1983.2 973.1 1983.3 976 1983.5 978.8 1983.6 981.6 1983.8 984.2 1983.9 986.4 1984.1 988.5 1984.2 990.3 1984.4 991.7 1984.5 992.7 1984.7 993.4 1984.8 993.6 1985 993.3 1985.2 992.2 1985.3 990.7 1985.5 988.8 1985.7 986.2 1985.9 983.6 1986.1 980.6 1986.3 977.4 1986.5 974.2 1986.6 971 1986.8 967.9 1987 964.9 1987.1 963 1987.2 961.1 1987.3 959 1987.5 956.7 1987.6 954.4 1987.7 952.2 1987.8 949.8 1987.9 947.4 1988 944.9 1988.2 942.6 1988.3 940.1 1988.4 937.6 1988.5 935.3 1988.6 932.8 1988.8 930.5 1988.9 928.2 1989 926 1989.1 923.9 1989.2 921.4 1989.4 918.8 1989.5 916.1 1989.7 913.5 1989.8 910.7 1989.9 908 1990.1 905.4 1990.2 902.7 1990.3 900.1 1990.5 897.6 1990.6 895.2 1990.8 893 1990.9 890.8 1991 888.8 1991.2 887.1 1991.3 885.5 1991.5 884.1 1991.6 883 1992.1 879.5 1992.6 876.2 1993.1 873.8 1993.6 871.5 1994.1 870 1994.6 869.5 1995.1 870 1995.6 871.4 1996.2 873.7 1996.7 876.5 1997.2 879.5 1997.7 883 1997.9 884.3 1998 885.8 1998.2 887.7 1998.3 889.9 1998.5 892.2 1998.6 894.7 1998.8 897.4 1999 900.1 1999.1 902.8 1999.3 905.6 1999.4 908.3 1999.6 911 1999.7 913.5 1999.9 915.8 2000 917.9 2000.2 919.8 2000.5 922.7 2000.7 925.9 2001 928.8 2001.2 931.8 2001.5 934.6 2001.8 937.2 2002 939.3 2002.3 941 2002.5 942.1 2002.8 942.4 2003.1 941.9 2003.3 940.9 2003.6 939.2 2003.9 936.9 2004.2 934.3 2004.4 931.5 2004.7 928.4 2005 925.3 2005.2 922.6 2005.5 919.8 2005.7 917.6 2005.9 915.3 2006.1 912.7 2006.3 909.8 2006.5 907.1 2006.8 904.4 2007 901.6 2007.2 899.2 2007.4 897.1 2007.6 895.2 2007.8 894 2008 893.2 2009.2 890.8 2010.4 890.3 2010.7 890.4 2011.1 891.8 2011.4 893.6 2011.8 896 2012.1 898.7 2012.4 901.6 2012.8 904.5 2013.1 907.4 2013.3 909.3 2013.5 911.4 2013.7 913.6 2013.8 916.1 2014 918.9 2014.2 921.6 2014.4 924.3 2014.6 927.1 2014.8 929.9 2015 932.5 2015.1 934.8 2015.3 937 2015.5 938.8 2015.7 940.3 2016.1 943.2 2016.5 946.2 2017 948.5 2017.4 950.6 2017.8 952.1 2018.2 952.7 2018.6 952.2 2019 951 2019.4 949.1 2019.8 946.7 2020.1 943.9 2020.5 940.8 2020.9 937.5 2021.3 934.1 2021.5 932.7 2021.6 930.9 2021.8 928.9 2022 926.8 2022.1 924.5 2022.3 922 2022.5 919.5 2022.6 916.9 2022.8 914.1 2023 911.4 2023.1 908.9 2023.3 906.2 2023.5 903.7 2023.6 901.2 2023.8 899 2024 896.8 2024.1 895 2024.3 893.3 2024.6 890.3 2024.9 887.3 2025.2 884.6 2025.5 882 2025.8 879.3 2026.2 877 2026.5 875.1 2026.8 873.2 2027.1 871.6 2027.4 870.7 2028.4 867.9 2029.5 865.9 2030.5 865.7 2031.8 866.3 2033 867.8 2034.3 870.5 2035.6 872.5 2036.3 874 2037 875.7 2037.7 877.8 2038.3 879.8 2039 882.4 2039.7 885.2 2040.1 886.6 2040.4 888.4 2040.8 890.2 2041.2 892.4 2041.5 894.4 2041.9 896.9 2042.3 899.3 2042.7 901.8 2043 904.4 2043.4 907.1 2043.8 910 2044.1 912.7 2044.5 915.5 2044.7 917.4 2045 919.4 2045.2 921.4 2045.4 923.5 2045.6 925.7 2045.9 928 2046.1 930.2 2046.3 932.6 2046.5 934.9 2046.8 937.4 2047 939.9 2047.2 942.2 2047.5 944.8 2047.7 947.1 2047.9 949.5 2048.1 951.9 2048.4 954.2 2048.6 956.6 2048.8 959 2049.1 961.3 2049.3 963.7 2049.5 966.2 2049.7 968.7 2050 971.2 2050.2 973.7 2050.4 976.3 2050.6 978.8 2050.9 981.2 2051.1 983.5 2051.3 985.9 2051.6 988.1 2051.8 990.2 2052 992.3 2052.2 994.1 2052.5 995.9 2052.7 997.5 2053.1 1000.5 2053.6 1003.5 2054 1006.3 2054.4 1009.1 2054.8 1011 2055.3 1012.3 2055.7 1013 2056.4 1012.4 2057.1 1011.3 2057.8 1009.4 2058.5 1007.2 2059.1 1004.7 2059.8 1001.6 2060.5 999 2061.2 996 2061.9 993.5 2062.4 991.4 2062.9 989 2063.4 986.7 2064 984.3 2064.5 982.4 2065 981 2066.1 978.5 2067.3 976.6 2068.4 975.8 2068.7 976.5 2069.1 977.4 2069.4 979.2 2069.8 981.4 2070.1 984.2 2070.4 987.2 2070.8 990.3 2071.1 993.4 2071.3 994.8 2071.4 996.1 2071.6 997.5 2071.7 999.1 2071.9 1000.9 2072 1003.2 2072.2 1006 2072.3 1009.5 2072.5 1013.9 2072.5 1015 2072.5 1016.8 2072.6 1019.2 2072.6 1022 2072.6 1025.1 2072.6 1028.4 2072.7 1031.7 2072.7 1034.9 2072.7 1037.9 2072.7 1040.5 2072.8 1042.6 2072.8 1044 2072.8 1044.7 2073.2 1046.8 2073.6 1045.6 2074.1 1043.5 2074.5 1040.5 2074.9 1037.7 2075.4 1035.2 2075.8 1034.5 2075.9 1034.6 2076 1035.2 2076.1 1036.2 2076.1 1037.5 2076.2 1039.1 2076.3 1041 2076.4 1043.1 2076.5 1045.6 2076.6 1048.1 2076.6 1050.9 2076.7 1053.7 2076.8 1056.7 2076.9 1059.8 2077 1062.9 2077.1 1066.1 2077.1 1069.3 2077.2 1072.3 2077.3 1075.4 2077.4 1077.5 2077.4 1080 2077.5 1083 2077.5 1086 2077.6 1089.3 2077.6 1092.5 2077.7 1095.5 2077.7 1098.3 2077.8 1100.6 2077.8 1102.5 2077.8 1103.7 2077.9 1104.1 2078.1 1103.4 2078.4 1101.8 2078.6 1099.2 2078.9 1096.1 2079.1 1092.8 2079.3 1089.4 2079.6 1086.5 2079.8 1083.9 2080.1 1082.3 2080.3 1081.6 2080.4 1082 2080.5 1083 2080.6 1084.5 2080.7 1086.5 2080.8 1088.9 2080.9 1091.5 2080.9 1094.4 2081 1097.4 2081.1 1100.3 2081.2 1103.2 2081.3 1105.8 2081.4 1108.2 2081.5 1110.5 2081.6 1112.9 2081.7 1115.2 2081.8 1117.5 2081.9 1119.8 2082 1122.2 2082.1 1124.6 2082.2 1126.9 2082.3 1129.2 2082.4 1131.6 2082.4 1133.9 2082.5 1136.3 2082.6 1138.7 2082.7 1141 2082.8 1143.4 2082.9 1145.7 2083 1148 2083.1 1150.4 2083.2 1152.7 2083.3 1155.1 2083.4 1157.4 2083.5 1159.8 2083.6 1162.1 2083.7 1164.5 2083.8 1166.9 2083.9 1169.4 2084 1171.9 2084.1 1174.3 2084.2 1176.7 2084.3 1179.2 2084.4 1181.6 2084.4 1184 2084.5 1186.4 2084.6 1188.8 2084.7 1191.2 2084.8 1193.5 2084.9 1195.8 2085 1198 2085.1 1200.3 2085.2 1202.4 2085.3 1204.5 2085.4 1206.6 2085.5 1208.6 2085.6 1211.3 2085.8 1214.2 2085.9 1217.2 2086 1220.2 2086.2 1223.4 2086.3 1226.5 2086.4 1229.6 2086.5 1232.6 2086.7 1235.5 2086.8 1238.3 2086.9 1241.1 2087.1 1243.6 2087.2 1246 2087.3 1248.1 2087.4 1250.1 2087.6 1251.6 2087.7 1252.9 2087.8 1253.9 2088 1254.5 2088.1 1254.7 2088.2 1254.5 2088.3 1254.1 2088.4 1253.3 2088.5 1252.2 2088.6 1250.9 2088.7 1249.3 2088.8 1247.5 2088.9 1245.5 2089 1243.2 2089.1 1240.8 2089.2 1238.3 2089.3 1235.6 2089.5 1232.8 2089.6 1229.8 2089.7 1226.8 2089.8 1223.7 2089.9 1220.5 2090 1217.4 2090.1 1214.2 2090.2 1211 2090.3 1207.7 2090.4 1204.6 2090.5 1201.4 2090.6 1198.4 2090.7 1196.6 2090.7 1194.7 2090.8 1192.8 2090.8 1190.8 2090.9 1188.8 2091 1186.7 2091 1184.5 2091.1 1182.3 2091.2 1180.1 2091.2 1177.8 2091.3 1175.5 2091.3 1173.2 2091.4 1170.8 2091.5 1168.4 2091.5 1165.9 2091.6 1163.4 2091.6 1160.8 2091.7 1158.3 2091.8 1155.7 2091.8 1153.1 2091.9 1150.4 2092 1147.8 2092 1145 2092.1 1142.4 2092.1 1139.7 2092.2 1136.9 2092.2 1134.8 2092.3 1132.6 2092.3 1130.4 2092.4 1127.9 2092.4 1125.5 2092.5 1122.9 2092.5 1120.4 2092.6 1117.8 2092.6 1115.3 2092.6 1112.7 2092.7 1110.2 2092.7 1107.9 2092.8 1105.5 2092.8 1103.3 2092.9 1101.2 2092.9 1099.2 2093 1097.5 2093 1095.9 2093.1 1092.7 2093.2 1089.5 2093.3 1086.5 2093.4 1083.6 2093.5 1080.9 2093.6 1078.3 2093.7 1075.9 2093.8 1073.7 2093.9 1071.7 2094 1069.8 2094.1 1068 2094.2 1066.5 2094.3 1065.2 2094.6 1061.6 2094.9 1058.3 2095.2 1055.4 2095.5 1052.8 2095.8 1050.6 2096.1 1048.7 2096.4 1047.4 2096.7 1046.7 2098.2 1044.1 2099.8 1042.9 2101.3 1041.6 2102.9 1041.5 2103.9 1042.6 2104.9 1045.4 2106 1047.5 2107 1049 2108.5 1047.6 2110 1046.5 2110.3 1047.4 2110.6 1049.4 2110.9 1051.9 2111.2 1054.7 2111.5 1057.7 2111.8 1059.7 2112.1 1061.2 2113.4 1063.4 2114.6 1064.8 2115.9 1065.9 2117.2 1067.3 2117.9 1068.7 2118.6 1070.5 2119.2 1072.6 2119.9 1074.7 2120.6 1077.3 2121.3 1079.5 2121.8 1081.4 2122.3 1083.4 2122.8 1085.7 2123.4 1087.9 2123.9 1090 2124.4 1092.3 2124.9 1094.1 2125.4 1095.9 2126.2 1098.5 2127 1100.7 2127.9 1102.5 2128.7 1104.7 2129.5 1105.9 2130.7 1107.9 2131.9 1109.4 2133.1 1111.4 2134.3 1112.7" stroke="#0000ff" stroke-width="6.1"/>
<line x1="629.5" y1="1011" x2="629.5" y2="947.2" stroke="#000" stroke-width="3"/><polygon points="629.5,913.2 637.2,947.2 621.8,947.2" fill="#000" stroke="#000" stroke-width="3" stroke-linejoin="miter" stroke-miterlimit="3"/>
<line x1="825.6" y1="912.4" x2="825.6" y2="849.4" stroke="#000" stroke-width="3"/><polygon points="825.6,815.4 833.3,849.4 817.9,849.4" fill="#000" stroke="#000" stroke-width="3" stroke-linejoin="miter" stroke-miterlimit="3"/>
<line x1="1580.4" y1="952.6" x2="1580.4" y2="890.7" stroke="#000" stroke-width="3"/><polygon points="1580.4,856.7 1588.1,890.7 1572.7,890.7" fill="#000" stroke="#000" stroke-width="3" stroke-linejoin="miter" stroke-miterlimit="3"/>
<line x1="1746.6" y1="943.2" x2="1728" y2="883.3" stroke="#000" stroke-width="3"/><polygon points="1717.9,850.8 1735.3,881 1720.6,885.6" fill="#000" stroke="#000" stroke-width="3" stroke-linejoin="miter" stroke-miterlimit="3"/>
<line x1="1912.2" y1="1060.5" x2="1933.3" y2="950.3" stroke="#000" stroke-width="3"/><polygon points="1939.7,917 1940.9,951.8 1925.8,948.9" fill="#000" stroke="#000" stroke-width="3" stroke-linejoin="miter" stroke-miterlimit="3"/>
<line x1="2011.6" y1="1060.3" x2="2001.1" y2="1033.9" stroke="#000" stroke-width="3"/><polygon points="1988.4,1002.3 2008.2,1031 1993.9,1036.8" fill="#000" stroke="#000" stroke-width="3" stroke-linejoin="miter" stroke-miterlimit="3"/>
<text class="b" font-size="96" transform="translate(156.1 1133.05) rotate(-90) scale(0.9751 1)">Transmittance (a.u.)</text>
<g transform="translate(795.81 1622) scale(0.9618 1)"><text class="b" font-size="95">Wavenumber (cm<tspan font-size="59.61" x="787.5" y="-51.3">–1</tspan><tspan x="853.05" y="0">)</tspan></text><rect class="m" x="822.62" y="-59.17" width="11.95" height="9.66"/><rect class="m" x="842.74" y="-59.17" width="11.19" height="9.66"/></g>
<text class="s" font-size="86" transform="translate(1161.08 1749.3) scale(0.9567 1)">(<tspan class="sb">a</tspan>)</text>
</g>
<g id="chart-b">
<rect class="fr" x="264" y="2003.7" width="1912" height="1401" stroke-width="17.8"/>
<text class="b" font-size="74" transform="translate(185.15 3490) scale(0.964 1)">4000</text>
<line class="tk" x1="545.2" y1="3402.7" x2="545.2" y2="3376.6" stroke-width="17.5"/>
<text class="b" font-size="74" transform="translate(466.33 3490) scale(0.964 1)">3500</text>
<line class="tk" x1="826.4" y1="3402.7" x2="826.4" y2="3376.6" stroke-width="17.5"/>
<text class="b" font-size="74" transform="translate(747.51 3490) scale(0.964 1)">3000</text>
<line class="tk" x1="1107.5" y1="3402.7" x2="1107.5" y2="3376.6" stroke-width="17.5"/>
<text class="b" font-size="74" transform="translate(1028.68 3490) scale(0.964 1)">2500</text>
<line class="tk" x1="1388.7" y1="3402.7" x2="1388.7" y2="3376.6" stroke-width="17.5"/>
<text class="b" font-size="74" transform="translate(1309.86 3490) scale(0.964 1)">2000</text>
<line class="tk" x1="1669.9" y1="3402.7" x2="1669.9" y2="3376.6" stroke-width="17.5"/>
<g transform="translate(1591.03 3490) scale(0.964 1)"><text class="b" font-size="74" dx="2.89 -2.89 0 0">1500</text><rect class="m" x="5.33" y="-9.77" width="14.83" height="11.99"/><rect class="m" x="30.31" y="-9.77" width="13.89" height="11.99"/></g>
<line class="tk" x1="1951.1" y1="3402.7" x2="1951.1" y2="3376.6" stroke-width="17.5"/>
<g transform="translate(1872.21 3490) scale(0.964 1)"><text class="b" font-size="74" dx="2.89 -2.89 0 0">1000</text><rect class="m" x="5.33" y="-9.77" width="14.83" height="11.99"/><rect class="m" x="30.31" y="-9.77" width="13.89" height="11.99"/></g>
<text class="b" font-size="68.5" transform="translate(317.34 2095) scale(0.9516 1)">Pyrrole (Py)</text>
<text class="b" font-size="68.5" transform="translate(315.72 2541.3) scale(0.953 1)">Graphene oxide (GO)</text>
<text class="b" font-size="68.5" transform="translate(314.63 2956) scale(0.9531 1)">PPy-reduced GO (rGO)</text>
<text class="r" font-size="54.3" transform="translate(544.11 2356.7) scale(0.99 1)">3396</text>
<text class="r" font-size="50" transform="translate(544.23 2409.6) scale(0.972 1)">(N-H)</text>
<g transform="translate(1620.62 2356.6) scale(0.99 1)"><text class="r" font-size="54.3">1467</text><rect class="m" x="2.51" y="-5.69" width="11.15" height="7.31"/><rect class="m" x="18.45" y="-5.69" width="10.72" height="7.31"/></g>
<text class="r" font-size="50" transform="translate(1618.88 2409.5) scale(0.972 1)">(C=C)</text>
<text class="r" font-size="50" transform="translate(1553.34 2465.8) scale(0.972 1)">aromatic ring</text>
<g transform="translate(1887.47 2442.6) scale(0.99 1)"><text class="r" font-size="54.3">1047</text><rect class="m" x="2.51" y="-5.69" width="11.15" height="7.31"/><rect class="m" x="18.45" y="-5.69" width="10.72" height="7.31"/></g>
<text class="r" font-size="50" transform="translate(1887.98 2490) scale(0.972 1)">(C-C)</text>
<text class="r" font-size="54.3" transform="translate(2059.06 2522.5) scale(0.99 1)">726</text>
<text class="r" font-size="50" transform="translate(2043.38 2571.7) scale(0.972 1)">(C-H)</text>
<text class="r" font-size="54.3" transform="translate(564.65 2817.5) scale(0.99 1)">3338</text>
<text class="r" font-size="50" transform="translate(564.92 2873) scale(0.972 1)">(O-H)</text>
<g transform="translate(1533.4 2771.5) scale(0.99 1)"><text class="r" font-size="54.3">1396</text><rect class="m" x="2.51" y="-5.69" width="11.15" height="7.31"/><rect class="m" x="18.45" y="-5.69" width="10.72" height="7.31"/></g>
<text class="r" font-size="50" transform="translate(1518.78 2829) scale(0.972 1)">(C-OH)</text>
<g transform="translate(1758.4 2859.5) scale(0.99 1)"><text class="r" font-size="54.3">1233</text><rect class="m" x="2.51" y="-5.69" width="11.15" height="7.31"/><rect class="m" x="18.45" y="-5.69" width="10.72" height="7.31"/></g>
<text class="r" font-size="50" transform="translate(1735.93 2912.6) scale(0.972 1)">(C-O-C)</text>
<g transform="translate(1991.25 2940.7) scale(0.99 1)"><text class="r" font-size="54.3">1093</text><rect class="m" x="2.51" y="-5.69" width="11.15" height="7.31"/><rect class="m" x="18.45" y="-5.69" width="10.72" height="7.31"/></g>
<text class="r" font-size="50" transform="translate(1995.92 2993.8) scale(0.972 1)">(C-O)</text>
<g transform="translate(1568.37 3223) scale(0.99 1)"><text class="r" font-size="54.3">1570</text><rect class="m" x="2.51" y="-5.69" width="11.15" height="7.31"/><rect class="m" x="18.45" y="-5.69" width="10.72" height="7.31"/></g>
<text class="r" font-size="50" transform="translate(1567.63 3278.4) scale(0.972 1)">(C=C)</text>
<g transform="translate(1808.74 3230) scale(0.99 1)"><text class="r" font-size="54.3">1138</text><rect class="m" x="2.51" y="-5.69" width="11.15" height="7.31"/><rect class="m" x="18.45" y="-5.69" width="10.72" height="7.31"/><rect class="m" x="32.71" y="-5.69" width="11.15" height="7.31"/><rect class="m" x="48.65" y="-5.69" width="10.72" height="7.31"/></g>
<text class="r" font-size="50" transform="translate(1817.17 3284.5) scale(0.972 1)">(C-O)</text>
<path class="cv" d="M264 2148.5 266.4 2148.2 268.7 2148.7 271 2148.6 273.4 2148.5 275.7 2148.2 278 2148.7 280.3 2148.7 282.5 2148.4 284.8 2148.3 287.1 2147.9 289.4 2147.6 291.7 2147.9 294 2148 296.3 2147.4 298.6 2148 300.9 2147.3 303.1 2147.2 305.4 2146.9 307.7 2147.8 310 2147.4 312.2 2147.5 314.5 2147.2 316.7 2146.5 319 2146.7 321.2 2146.8 323.5 2146.3 325.7 2147 328 2146.4 330.2 2146.1 332.5 2146.7 334.7 2146 337 2146.7 339.2 2146.2 341.5 2146.3 343.7 2146 346 2146.2 348.2 2145.9 350.5 2145.8 352.8 2146.6 355 2146 357.3 2146.5 359.6 2146 361.9 2146.8 364.1 2146.7 366.4 2146.6 368.7 2146.6 370.9 2146.4 373.2 2146.6 375.5 2146 377.7 2146.4 380 2146.7 382.4 2146.1 384.7 2146.8 387.1 2146.8 389.4 2146.3 391.8 2146.2 394.1 2146.3 396.5 2146.2 398.8 2146.8 401.2 2146.1 403.5 2145.8 405.9 2145.8 408.2 2146.4 410.6 2146.7 412.8 2146.2 415 2146.3 417.3 2146.4 419.5 2146.7 421.7 2146.3 423.9 2146.8 426.1 2146.9 428.3 2147.1 430.6 2146.8 432.8 2147 435 2147.3 437.3 2147.9 439.7 2147.5 442 2147.8 444.4 2147.6 446.7 2147.5 449.1 2147.6 451.4 2148.4 453.8 2148.5 456.1 2148.2 458.5 2148.6 460.8 2148.7 463 2149 465.2 2149.2 467.4 2148.8 469.6 2149.4 471.8 2149.5 474 2149.3 476.2 2149.7 478.4 2149.5 480.6 2149.5 482.8 2149.4 485 2150.2 487.4 2149.6 489.7 2149.6 492.1 2150.4 494.5 2150.5 496.8 2150.3 499.2 2150.7 501.5 2150.1 503.9 2150.4 506.3 2150.5 508.6 2150.7 511 2150.6 513.4 2150.6 515.8 2150.9 518.2 2151.5 520.6 2151.7 523 2151.5 525.4 2151.3 527.8 2151.1 530.1 2151.9 532.5 2151.6 534.9 2151.9 537.3 2151.3 539.7 2151.6 542.1 2152.4 544.5 2152.5 546.7 2152.8 549 2153.2 551.2 2153.8 553.4 2154.8 555.7 2156.1 557.9 2156.7 559.6 2157.9 561.2 2158.9 562.9 2160.5 564.6 2161.5 566.3 2163.6 567.9 2165.4 569.6 2166.5 571.3 2168.7 572.8 2170.3 574.2 2172.2 575.7 2173.9 577.1 2175.7 578.6 2177.7 580.1 2180.1 581.5 2182 583 2183.5 584.5 2185.4 585.9 2187.4 587.4 2189.3 588.9 2191.5 590.3 2193.3 591.8 2195.6 593.2 2197.2 594.7 2198.5 596.5 2200.5 598.2 2202 600 2203.5 601.9 2204.5 603.7 2205.1 605.9 2204.5 608 2203.4 609.7 2202.4 611.4 2200.6 613.1 2198.4 614.4 2197.3 615.6 2195.6 616.9 2193.7 618.2 2191.7 619.4 2189.2 620.7 2187.5 621.9 2185.3 623.2 2183.8 624.7 2181.5 626.1 2179.7 627.6 2177.3 629 2175.5 630.5 2173.3 632 2171.3 633.4 2169.9 634.9 2168.5 636.8 2167.3 638.7 2165.4 640.6 2164.2 642.5 2163 644.4 2162.2 646.3 2160.7 648.2 2160.3 650.3 2159.5 652.5 2159 654.6 2158.5 656.7 2157.4 658.9 2157.2 661 2156.5 663.2 2156.1 665.3 2155.3 667.4 2155.6 669.6 2155.3 671.7 2154.5 674.1 2154.1 676.5 2154.4 678.9 2153.2 681.2 2152.9 683.6 2152.5 686 2153 688.4 2152.6 690.8 2152.1 693.2 2152 695.6 2151.2 697.9 2151.7 700.3 2151.3 702.7 2151.3 705.1 2151.1 707.5 2151.1 709.8 2150.8 712.1 2150.6 714.5 2151 716.9 2150.7 719.2 2151.2 721.6 2151.2 723.9 2151.1 726.2 2150.9 728.6 2150.6 730.9 2150.9 733.2 2151.1 735.4 2151.5 737.7 2152 740 2151.4 742.2 2152 744.5 2152.3 746.7 2152.7 748.9 2153.2 751.2 2153.3 753.4 2153.5 755.6 2153.9 757.9 2154.1 760.1 2154.5 762.2 2154.7 764.2 2155 766.3 2154.9 768.4 2155.6 770.4 2154.8 772.3 2154.3 774.3 2153.5 776.3 2152.6 778.2 2151.9 780.2 2150.8 782.4 2151.1 784.7 2151.3 786.9 2151.6 789.1 2151.6 791.4 2152.2 793.6 2151.8 795.8 2151.9 798 2152.3 800.2 2151.7 802.5 2151.1 804.7 2150.5 806.9 2151.2 809.3 2151.1 811.6 2150.9 814 2151.4 816.3 2152.3 818.7 2153 820.1 2153.4 821.5 2155.2 822.9 2156.5 824.2 2158.4 825.6 2160.5 827 2161.7 828.7 2163.8 830.4 2165.5 832 2167.7 833.7 2169.2 835.4 2170.4 837.1 2171.2 839.1 2170.3 841.1 2169 843.1 2167.5 845.1 2165.8 847.1 2165 849.4 2164.8 851.8 2164.4 854.1 2164.1 856.5 2164.7 858.8 2163.8 860.5 2164.9 862.1 2166.4 863.8 2168.2 865.5 2169.9 866.5 2172.1 867.5 2174.5 868.5 2177.5 869.5 2179.9 870.5 2180.9 872.2 2181.3 873.9 2182 875.2 2181.2 876.6 2179.7 877.9 2177.7 879.3 2175.7 880.6 2173.5 882 2171.6 883.5 2170.1 884.9 2168.2 886.3 2166.2 887.7 2164.3 889.2 2162.9 890.6 2161.8 892.5 2160.6 894.4 2159.2 896.3 2158.5 898.3 2157.6 900.2 2156.8 902.1 2156.1 904 2154.8 906.1 2154.7 908.2 2153.7 910.3 2154 912.4 2153.4 914.4 2153 916.5 2152.2 918.6 2151.9 920.7 2152.5 923.1 2152.3 925.4 2152.5 927.8 2152.5 930.1 2152.9 932.5 2152.7 934.8 2152.8 937.2 2153.1 939.5 2153.2 941.9 2153.6 944.2 2153.9 946.4 2152.9 948.7 2152.3 950.9 2151.9 953.1 2151.3 955.4 2150.2 957.6 2150 960 2149.7 962.4 2149.6 964.8 2150 967.1 2150.1 969.5 2150 971.9 2149.5 974.3 2149.4 976.7 2150.2 979.1 2149.8 981.5 2149.6 983.8 2149.9 986.2 2149.8 988.6 2149.6 991 2149.1 993.4 2149.7 995.8 2149 998.2 2148.7 1000.6 2148.8 1003 2148.8 1005.4 2148.7 1007.8 2148.1 1010.1 2148.4 1012.5 2148 1014.9 2147.5 1017.3 2148 1019.7 2147.9 1022.1 2147.9 1024.5 2147.7 1026.9 2147.2 1029.3 2147.8 1031.7 2148 1034.1 2147.7 1036.5 2148.1 1038.9 2148.3 1041.2 2147.8 1043.6 2148.4 1046 2148.6 1048.4 2148.5 1050.8 2147.9 1053.2 2148.4 1055.6 2148.8 1058 2148.9 1060.3 2149.2 1062.6 2149.4 1064.9 2149.3 1067.2 2150.3 1069.5 2150.3 1071.8 2150.9 1074.1 2150.5 1076.4 2151.3 1078.7 2150.6 1081.1 2150.2 1083.4 2149.5 1085.8 2149.1 1088.1 2148.4 1090.4 2148.1 1092.8 2148.4 1095.1 2148.2 1097.4 2148.6 1099.7 2148.8 1102.1 2148.4 1104.4 2148.2 1106.7 2148.1 1109 2148.5 1111.4 2148.6 1113.7 2148.1 1116 2148.7 1118.4 2148.3 1120.7 2148.2 1123 2149 1125.3 2148.6 1127.7 2149 1130 2148.6 1132.4 2148.2 1134.7 2148.3 1137.1 2148.5 1139.5 2148.7 1141.9 2148.9 1144.2 2148.8 1146.6 2148.7 1149 2148.3 1151.4 2148.5 1153.7 2148.5 1156.1 2148.6 1158.5 2148.3 1160.9 2148.6 1163.2 2148.5 1165.6 2148.1 1168 2148.9 1170.4 2148.6 1172.7 2148.8 1175.1 2148.7 1177.2 2148.1 1179.3 2147.2 1181.4 2145.5 1183.5 2145 1185.2 2145.4 1186.8 2147.2 1188.5 2148.7 1190.2 2149.6 1192.5 2150.4 1194.9 2150 1197.2 2150.3 1199.6 2151 1201.9 2151.1 1204.2 2150.8 1206.6 2150.3 1208.9 2150.5 1211.3 2150.9 1213.6 2150.4 1216 2150.3 1218.3 2150 1220.6 2150.1 1223 2150 1225.3 2149.9 1227.7 2150 1230 2149.7 1232.4 2149.3 1234.7 2149.1 1237.1 2149.5 1239.5 2149.4 1241.9 2149.4 1244.2 2148.6 1246.6 2149.1 1249 2149 1251.3 2148.1 1253.7 2148.2 1256.1 2148.4 1258.5 2147.9 1260.8 2148.4 1263.2 2147.8 1265.6 2148.1 1267.9 2147.6 1270.3 2147.5 1272.7 2147.4 1275 2147.6 1277.4 2147.8 1279.8 2147.3 1282.2 2147.7 1284.5 2147.3 1286.9 2147.6 1289.3 2147.4 1291.7 2147.2 1294.1 2147.2 1296.5 2147.1 1298.9 2147.8 1301.3 2147.6 1303.7 2147.3 1306 2148.2 1308.4 2148 1310.8 2147.5 1313.2 2148.2 1315.6 2148.2 1318 2148.1 1320.4 2148.3 1322.8 2148.9 1325.2 2148.4 1327.6 2148.8 1330 2148.9 1332.4 2148.8 1334.8 2148.9 1337.2 2149.4 1339.5 2149.4 1341.9 2149.4 1344.3 2149.6 1346.7 2149.5 1349.1 2150.2 1351.5 2149.6 1353.9 2150.3 1356.1 2150.4 1358.4 2150.4 1360.6 2151.1 1362.8 2151.4 1365.1 2151.3 1367.3 2152 1369.5 2151.9 1371.8 2152.7 1374 2152.3 1376.3 2152.3 1378.6 2152.1 1380.9 2151.8 1383.3 2151.7 1385.6 2151.4 1387.9 2151.6 1390.2 2151.5 1392.5 2150.7 1394.8 2150.3 1397.2 2150.5 1399.5 2150 1401.8 2150.1 1404.1 2150.4 1406.5 2149.9 1408.9 2150.4 1411.3 2150.3 1413.7 2149.8 1416 2150 1418.4 2150.4 1420.8 2149.9 1423.2 2150 1425.6 2150.4 1428 2150.7 1430.4 2150.4 1432.8 2150.6 1435.2 2150 1437.5 2150.3 1439.9 2150.4 1442.3 2151 1444.7 2150.5 1447.1 2150.9 1449.5 2150.2 1451.9 2150.7 1454.3 2151.1 1456.7 2151 1459.1 2150.8 1461.4 2150.5 1463.8 2151.2 1466.2 2150.4 1468.6 2151.3 1471 2151.1 1473.4 2151 1475.8 2150.7 1478.2 2150.2 1480.6 2150.2 1483 2150.3 1485.4 2150 1487.8 2149.5 1490.1 2149.7 1492.5 2148.7 1494.9 2148.8 1497.3 2148.4 1499.7 2148.5 1502.1 2148.8 1504.5 2148.7 1506.8 2148.2 1509.2 2148.4 1511.5 2148.3 1513.9 2149 1516.2 2149 1518.5 2149 1520.9 2149.3 1523.2 2150 1525.6 2149.9 1527.9 2150.4 1530.1 2150.7 1532.4 2151.1 1534.6 2151.9 1536.8 2152.5 1539.1 2153.1 1541.3 2154.1 1543.5 2154.5 1545.8 2154.9 1548 2154.9 1550.2 2155.5 1552.5 2154.7 1554.7 2154.1 1556.9 2153.5 1559.2 2153.4 1561.4 2153.8 1563.4 2153.5 1565.4 2154.2 1567.4 2154.4 1569.4 2155.2 1571.4 2155.2 1573.5 2155.3 1575.6 2155 1577.7 2154.5 1579.8 2154.1 1581.9 2154.1 1584 2154.1 1586.1 2153.8 1588.2 2153.5 1590.6 2153.4 1593 2154 1595.4 2154.2 1597.7 2153.7 1600.1 2154.5 1602.5 2154.9 1604.9 2155.2 1607.3 2155.8 1609.7 2156 1612.1 2155.8 1614.4 2156.8 1616.8 2156.4 1619.2 2156.6 1621.6 2157.3 1623.9 2156.7 1626.2 2157 1628.5 2157.2 1630.8 2156.9 1633.1 2157 1635.4 2157.6 1637.7 2157.5 1640 2157.7 1642 2158 1644.1 2158.6 1646.1 2159.5 1647.1 2160.6 1648.2 2162.9 1649.2 2165.2 1650.2 2167.5 1651.5 2169.8 1652.7 2171.3 1653.8 2170.2 1654.9 2167.8 1656 2165.4 1656.9 2163.1 1657.8 2160.5 1658.6 2158.4 1659.5 2156.9 1661.2 2155.5 1662.9 2154.7 1664.6 2154.7 1666.6 2155.1 1668.7 2154.9 1670.8 2156.1 1672.8 2156.4 1674.6 2157.6 1676.4 2158.6 1678.2 2160.3 1680 2162.4 1680.8 2163.5 1681.6 2165.2 1682.5 2167.3 1683.3 2169.2 1684.1 2171.4 1684.7 2173.5 1685.3 2176 1685.9 2178.4 1686.5 2179.9 1687.1 2180.7 1687.9 2179.7 1688.7 2177.7 1689.4 2175.1 1690.2 2172.4 1690.9 2170.3 1691.6 2168.2 1692.3 2165.8 1693 2164 1693.7 2163 1695.4 2161.4 1697.1 2160.7 1698.8 2159.4 1700.5 2159.5 1702 2159.9 1703.5 2161.3 1705.1 2162.7 1706.6 2164 1708.4 2166 1710.1 2167.2 1711.9 2169 1713.6 2170.1 1715.4 2170.7 1717.1 2170 1718.7 2168 1720.3 2165.7 1722 2164.5 1723.8 2162.8 1725.5 2162.3 1727.3 2161 1729.1 2160.6 1730.1 2161.6 1731.2 2163.9 1732.2 2166.6 1733.2 2168.6 1734.6 2170.3 1735.9 2171.2 1736.9 2169.9 1737.8 2167.6 1738.8 2165.2 1739.7 2163.2 1740.7 2161.2 1741.6 2159.4 1742.5 2158 1744.5 2157.8 1746.6 2157.2 1748.6 2156.7 1750.3 2157.7 1752 2159.5 1753.7 2160 1755.5 2159.7 1757.3 2158.8 1759.1 2157.5 1760.9 2157 1763.2 2156.3 1765.5 2156.9 1767.8 2156.7 1770.1 2157.2 1772.4 2156.5 1774.7 2157 1777 2156.6 1779.3 2157.4 1781 2157.8 1782.7 2158.4 1784.4 2160.1 1786.2 2161.5 1787.9 2163 1789.6 2163.4 1791.6 2162.5 1793.7 2162.2 1795.8 2160.9 1797.8 2159.1 1799.9 2158.2 1801.9 2157.6 1803.9 2158 1806 2158.3 1808 2159.1 1808.9 2160.1 1809.8 2161.5 1810.8 2164 1811.7 2167.5 1811.9 2168.4 1812.1 2169.7 1812.3 2171.6 1812.5 2173.6 1812.7 2175.9 1812.8 2178.4 1813 2181 1813.2 2183.8 1813.4 2186.6 1813.6 2189.3 1813.8 2192 1813.9 2194 1814.1 2196.2 1814.2 2198.5 1814.4 2200.9 1814.5 2203.4 1814.7 2206 1814.8 2208.6 1814.9 2211.1 1815.1 2213.6 1815.2 2216.1 1815.4 2218.5 1815.5 2220.7 1815.7 2222.8 1815.8 2224.8 1816 2227.7 1816.2 2230.7 1816.4 2233.8 1816.6 2236.9 1816.8 2239.7 1817.1 2242.3 1817.3 2244.6 1817.5 2246.2 1817.7 2247.4 1817.9 2247.6 1818.2 2247.2 1818.6 2245.7 1818.9 2243.7 1819.3 2241.1 1819.6 2238.3 1820 2235.5 1820.3 2232.9 1820.6 2231 1820.9 2228.8 1821.1 2226.4 1821.4 2223.9 1821.7 2221.5 1822 2219.1 1822.3 2216.6 1822.6 2214.4 1822.8 2212.2 1823.1 2210.2 1823.4 2208.4 1823.9 2205.6 1824.4 2202.6 1824.9 2199.7 1825.5 2197.2 1826 2194.9 1826.5 2192.9 1827 2191.2 1827.5 2189.8 1828.9 2187.4 1830.2 2185.2 1831.6 2183.9 1833.4 2183.5 1835.2 2183.2 1837 2182.8 1838.8 2182.9 1840.8 2182.3 1842.9 2181.3 1845 2180.2 1847 2180 1849 2179.9 1851.1 2180.4 1853.1 2181.3 1855.2 2181.5 1857.2 2182.6 1858.8 2183.4 1860.5 2184.5 1862.1 2185.8 1863.8 2187 1865.4 2189 1866.6 2190.5 1867.8 2191.7 1869 2193.4 1870.2 2195.5 1871.4 2198 1872.6 2200.1 1873.3 2201.8 1874 2203.2 1874.6 2205.2 1875.3 2207.1 1876 2209.2 1876.7 2211.2 1877.3 2213.8 1878 2216.2 1878.7 2218.6 1879.1 2220.4 1879.6 2222.2 1880 2224.1 1880.4 2226.2 1880.9 2228.5 1881.3 2230.7 1881.7 2232.9 1882.2 2235.3 1882.6 2237.7 1883 2240.3 1883.5 2242.8 1883.9 2245.2 1884.3 2247.3 1884.6 2249.5 1885 2251.6 1885.4 2253.9 1885.7 2256 1886.1 2258.4 1886.5 2260.6 1886.8 2263 1887.2 2265.4 1887.5 2267.8 1887.9 2270.3 1888.3 2272.9 1888.6 2275.4 1889 2278.1 1889.3 2280 1889.6 2282.1 1889.8 2284.3 1890.1 2286.4 1890.4 2288.7 1890.7 2290.9 1891 2293.1 1891.3 2295.3 1891.5 2297.6 1891.8 2300 1892.1 2302.3 1892.4 2304.6 1892.7 2307 1893 2309.5 1893.2 2311.9 1893.5 2314.3 1893.8 2316.7 1894.1 2319.1 1894.4 2321.2 1894.6 2323.6 1894.9 2325.9 1895.2 2328.4 1895.4 2330.8 1895.7 2333.1 1895.9 2335.6 1896.2 2338 1896.5 2340.4 1896.7 2342.8 1897 2345.1 1897.3 2347.5 1897.5 2349.7 1897.8 2351.8 1898.1 2354.4 1898.4 2357.4 1898.7 2360.4 1899 2363.2 1899.3 2365.8 1899.6 2367.9 1899.9 2369.3 1900.2 2369.8 1900.6 2369.3 1901 2368.2 1901.4 2366.1 1901.8 2363.7 1902.1 2360.9 1902.5 2358 1902.9 2354.9 1903.3 2351.8 1903.5 2350.1 1903.7 2348.1 1904 2345.9 1904.2 2343.6 1904.4 2341.2 1904.6 2338.8 1904.8 2336.1 1905.1 2333.6 1905.3 2331 1905.5 2328.4 1905.7 2325.9 1906 2323.5 1906.2 2321.2 1906.4 2319 1906.7 2316.4 1906.9 2314 1907.2 2311.5 1907.5 2309 1907.8 2306.7 1908 2304.3 1908.3 2302.1 1908.6 2299.8 1908.9 2297.4 1909.1 2295.2 1909.4 2292.9 1909.7 2290.7 1910 2288.5 1910.2 2286.3 1910.5 2284.2 1910.8 2281.6 1911.1 2279.2 1911.4 2276.6 1911.8 2274.1 1912.1 2271.6 1912.4 2269.2 1912.7 2266.6 1913 2264.2 1913.3 2262 1913.7 2259.6 1914 2257.6 1914.3 2255.5 1914.6 2253.4 1915 2250.6 1915.5 2247.5 1915.9 2244.7 1916.4 2242 1916.8 2239.7 1917.3 2238 1917.7 2237 1918.7 2236 1919.7 2235.1 1920 2236.1 1920.4 2238 1920.8 2240.9 1921.1 2243.8 1921.5 2246.8 1921.8 2249.3 1922.2 2251.8 1922.5 2254.4 1922.9 2257.1 1923.3 2259.3 1923.6 2260.8 1924 2261.4 1924.4 2260.7 1924.7 2259.4 1925.1 2257.2 1925.5 2254.7 1925.8 2251.8 1926.2 2249.3 1926.5 2247.2 1926.7 2244.8 1927 2242.1 1927.3 2239.4 1927.5 2236.6 1927.8 2233.9 1928.1 2231.6 1928.3 2229.6 1928.6 2228 1929.2 2225.2 1929.9 2222.7 1930.5 2220.6 1931.2 2219.1 1931.8 2218.6 1933.5 2218.9 1935.2 2218.4 1936.9 2218.6 1937.2 2219.1 1937.5 2220.6 1937.8 2222.5 1938 2225.1 1938.3 2227.7 1938.6 2230.4 1938.9 2233 1939.1 2235.1 1939.4 2237.3 1939.6 2239.7 1939.8 2242 1940.1 2244.5 1940.3 2246.9 1940.5 2249.2 1940.8 2251.5 1941 2253.3 1941.3 2256.2 1941.7 2259.1 1942 2262.1 1942.3 2264.5 1942.7 2266.1 1943 2266.9 1943.4 2266.2 1943.8 2264.5 1944.2 2262.3 1944.7 2259.5 1945.1 2256.3 1945.5 2253.5 1945.8 2251.3 1946 2248.8 1946.2 2246 1946.5 2243.1 1946.8 2240.3 1947 2237.9 1947.2 2236 1947.5 2235 1948.7 2232.4 1950 2231.2 1951.2 2230.4 1952.2 2231.2 1953.2 2232.9 1954.3 2234.7 1955.3 2237 1956.1 2238.7 1956.8 2240.6 1957.6 2242.6 1958.4 2244.8 1959.2 2246.9 1960 2249.1 1960.7 2251.2 1961.5 2253.4 1962.4 2255.6 1963.2 2257.9 1964.1 2259.8 1965 2262.1 1965.9 2264.1 1966.7 2266 1967.6 2267.9 1968.8 2270.1 1970.1 2272.2 1971.3 2274.3 1972.6 2276 1973.8 2278.2 1975 2279.6 1976.2 2280.8 1977.5 2282.4 1978.7 2284.3 1979.9 2286.5 1980.5 2287.5 1981.1 2289.1 1981.8 2291.2 1982.4 2293.1 1983 2295.5 1983.6 2298.4 1983.9 2300 1984.2 2301.8 1984.4 2303.8 1984.7 2306.1 1985 2308.5 1985.3 2311 1985.5 2313.6 1985.8 2316.4 1986.1 2319 1986.3 2321.1 1986.5 2323.5 1986.7 2326.2 1986.9 2328.8 1987.1 2331.6 1987.3 2334.2 1987.5 2336.6 1987.7 2338.7 1987.9 2340.4 1988.1 2341.6 1988.9 2344.5 1989.7 2347 1990.4 2348.6 1991.2 2349.9 1992.6 2351.9 1994.1 2353 1995.5 2354.3 1997 2355.2 1998.4 2357.2 1999.2 2358 2000.1 2359.7 2001 2361.6 2001.8 2363.8 2002.7 2365.8 2003.5 2368.3 2004 2369.8 2004.5 2371.9 2005 2374.1 2005.5 2376.3 2006.1 2378.4 2006.6 2380.8 2007.1 2382.7 2007.6 2384.5 2008.4 2387 2009.2 2389.7 2009.9 2391.5 2010.7 2392.9 2012.2 2393.5 2013.7 2394.3 2015.2 2395 2017.1 2394.6 2019 2392.7 2020.9 2391.9 2022.9 2390.8 2025 2390 2027 2388.4 2028.2 2387.4 2029.3 2385.9 2030.5 2384.6 2031.7 2382.5 2032.9 2380.5 2034 2378.2 2035.2 2376.5 2036.4 2374.7 2037.5 2372.5 2038.7 2370.8 2039.9 2368.9 2041.1 2366.9 2042.2 2364.4 2043.4 2362.1 2044.2 2360.2 2045 2358.5 2045.7 2356.3 2046.5 2354.3 2047.3 2352.2 2048.1 2350.1 2048.8 2347.9 2049.6 2345.5 2050.4 2343.5 2051.1 2341.6 2051.9 2339.5 2052.6 2337.6 2053.4 2335.4 2054.2 2333.4 2054.9 2331.3 2055.7 2329.2 2056.5 2327.2 2057.2 2325 2058 2323 2058.8 2320.5 2059.6 2318.7 2060.3 2316.6 2061.1 2314.6 2061.9 2312.7 2063.1 2310.6 2064.2 2308.5 2065.4 2306.2 2066.6 2304.4 2067.8 2302.4 2068.9 2300.3 2070.1 2298.7 2071.3 2296.2 2072.5 2293.9 2073.8 2291.8 2075 2289.9 2076.2 2288.5 2077.6 2287 2078.9 2286.4 2080.3 2285.5 2081.7 2286.5 2083 2288 2084.4 2290.5 2084.9 2291.5 2085.4 2292.9 2085.9 2294.8 2086.4 2296.7 2087 2299.1 2087.5 2301.4 2088 2304.1 2088.5 2306.6 2088.8 2308.4 2089.1 2310.2 2089.4 2312.3 2089.8 2314.3 2090.1 2316.5 2090.4 2318.7 2090.7 2321.1 2091 2323.5 2091.3 2325.8 2091.7 2328.4 2092 2330.7 2092.3 2333.1 2092.6 2335.4 2092.9 2337.7 2093.2 2340.1 2093.5 2342.7 2093.9 2345 2094.2 2347.6 2094.5 2350.2 2094.8 2352.7 2095.1 2355.1 2095.4 2357.5 2095.8 2359.8 2096.1 2362 2096.4 2364.1 2096.7 2366.1 2097.1 2368.9 2097.6 2371.8 2098 2374.8 2098.5 2377.3 2098.9 2379.5 2099.4 2380.9 2099.8 2381.5 2100.3 2381 2100.8 2379.7 2101.3 2377.6 2101.8 2375.1 2102.3 2372.2 2102.8 2369 2103.3 2366.2 2103.6 2364.3 2103.9 2362.4 2104.2 2360.2 2104.4 2358 2104.7 2355.6 2105 2353.1 2105.3 2350.4 2105.6 2347.8 2105.9 2345.2 2106.1 2342.7 2106.4 2340.2 2106.7 2337.6 2107 2335.3 2107.3 2333 2107.6 2330.4 2107.9 2327.8 2108.3 2325.4 2108.6 2322.8 2108.9 2320.5 2109.2 2318 2109.5 2315.6 2109.8 2313.3 2110.2 2310.9 2110.5 2308.8 2110.8 2306.8 2111.1 2304.7 2111.5 2302.1 2111.9 2299.5 2112.4 2297 2112.8 2294.6 2113.2 2292.2 2113.6 2289.9 2114.1 2287.6 2114.5 2285.3 2114.9 2283.2 2115.3 2281.5 2115.8 2279.6 2116.2 2278 2117 2275.2 2117.7 2272.6 2118.5 2269.7 2119.2 2267.1 2120 2265 2120.8 2263.3 2121.5 2261.8 2122.3 2260.5 2124 2259.5 2125.8 2258.1 2127.5 2257.3 2129 2255.6 2130.6 2253.9 2132.1 2252.1 2133.6 2251.1 2135.7 2251.5 2137.7 2251.8 2139.8 2251.3 2141.8 2251.7 2143.2 2251.7 2144.7 2252.7 2146.1 2254.4 2147.6 2256.6 2149 2259.6 2149.3 2260.6 2149.6 2261.8 2150 2263.5 2150.3 2265.4 2150.6 2267.7 2150.9 2270.2 2151.2 2272.8 2151.5 2275.5 2151.9 2278.5 2152.2 2281.3 2152.5 2284.2 2152.7 2286.1 2152.9 2288 2153.1 2290.2 2153.3 2292.4 2153.5 2294.8 2153.7 2297.3 2153.9 2299.7 2154.1 2302.2 2154.3 2304.8 2154.5 2307.3 2154.7 2309.9 2154.9 2312.4 2155.1 2314.8 2155.3 2317.1 2155.4 2319.7 2155.6 2322.3 2155.8 2325 2156 2327.7 2156.1 2330.3 2156.3 2332.9 2156.5 2335.2 2156.7 2337.4 2156.8 2339.2 2157 2340.6 2157.2 2341.6 2157.9 2344.4 2158.7 2346.6 2159.4 2348 2160.2 2348.5 2160.8 2347.7 2161.4 2345.8 2162.1 2342.5 2162.7 2339.6 2163 2337.4 2163.3 2334.6 2163.7 2331.7 2164 2329.5 2164.3 2328.3 2165.8 2326.9 2167.2 2326.2" stroke="#000000" stroke-width="6.9"/>
<path class="cv" d="M264 2584.5 266.3 2584.9 268.6 2584.1 270.9 2584 273.2 2584.9 275.6 2584.1 277.9 2584 280.2 2584.5 282.5 2584.2 284.8 2584.7 287.1 2584 289.4 2584.8 291.7 2584.1 294 2584.4 296.3 2584.7 298.6 2584.4 301 2584.6 303.3 2584.4 305.6 2583.8 307.9 2584.6 310.2 2584.3 312.6 2584 315 2583.9 317.4 2584.5 319.8 2584.3 322.2 2584.6 324.5 2584.5 326.9 2584.7 329.3 2584.3 331.7 2584.4 334.1 2584.3 336.5 2584 338.9 2584.7 341.3 2584 343.7 2584.5 346.1 2584.7 348.4 2584.4 350.8 2583.8 353.2 2584.5 355.6 2584.4 358 2583.9 360.4 2583.7 362.8 2584.2 365.2 2583.7 367.6 2584.6 370 2584.2 372.4 2584.2 374.7 2584.1 377.1 2584.4 379.5 2584.7 381.9 2584.1 384.3 2584.1 386.7 2584.4 389.1 2584.1 391.5 2584.4 393.9 2584.4 396.3 2584.3 398.6 2584.5 401 2584.4 403.4 2584 405.8 2584.9 408.2 2584.3 410.6 2584.4 412.9 2584.5 415.3 2585.1 417.6 2585.2 420 2585 422.3 2585.1 424.6 2585.1 427 2586.2 429.3 2585.8 431.7 2586.5 434 2586.8 435.9 2587.3 437.8 2588 439.7 2588.8 441.7 2589.8 443.6 2591.3 445.5 2592.7 447.4 2593.7 449.2 2594.5 451.1 2596.1 452.9 2597 454.7 2598.7 456.5 2600.4 458.4 2602 460.2 2603.1 462 2604.8 463.8 2606 465.7 2607.4 467.5 2608.7 469.6 2610.3 471.6 2611.4 473.7 2612.5 475.7 2613.9 477.8 2615 479.9 2615.9 481.9 2617.4 484 2618.6 486.1 2619.6 488.1 2621 490.2 2621.5 492.2 2623.1 494.3 2624.4 496.3 2625.4 498.2 2626.5 500.2 2628.1 502.2 2629.1 504.2 2630.3 506.1 2631.3 508.1 2633.3 510.1 2634.1 512 2635.2 514 2636.5 516 2637.8 517.9 2639.5 519.9 2640.2 521.9 2641.6 523.9 2642.7 525.8 2644.2 527.8 2645.2 529.8 2646.5 531.7 2648 533.7 2649.3 535.7 2650.5 537.6 2651.1 539.6 2652.5 541.6 2654.1 543.5 2654.7 545.5 2656 547.4 2657.4 549.4 2658.5 551.4 2659.9 553.3 2661 555.3 2662 557.3 2663 559.2 2664.2 561.2 2665.3 563.3 2666.4 565.3 2668.1 567.4 2669 569.4 2670.8 571.5 2671.8 573.6 2672.7 575.6 2674.2 577.7 2675.5 579.8 2676.2 581.8 2677.7 583.9 2678.4 585.9 2679.9 588 2680.2 590.1 2681.6 592.2 2682.8 594.3 2683.5 596.4 2683.8 598.4 2684.8 600.5 2685.1 602.6 2685.8 604.7 2686.6 606.8 2686.9 608.9 2686.4 611 2687.1 613.1 2687.5 615.2 2687.3 617.3 2688.1 619.4 2688.2 621.5 2687.9 623.8 2687.7 626.2 2688.1 628.5 2687.6 630.9 2687.1 633.2 2686.9 635.5 2686.5 637.9 2686.8 640.2 2686.2 642.6 2686.1 644.9 2685.9 647.1 2685.8 649.4 2684.8 651.6 2684.7 653.8 2684.8 656.1 2684.4 658.3 2683.7 660.5 2683.6 662.8 2682.8 665 2682.4 667.2 2682 669.5 2681.9 671.7 2681.4 674 2681.2 676.4 2681.2 678.7 2680 681.1 2680 683.4 2679.8 685.7 2679.1 688.1 2678.5 690.4 2678.1 692.8 2676.8 695.1 2677 697.2 2676.1 699.3 2675.4 701.4 2674.5 703.5 2672.9 705.5 2671.9 707.6 2670.9 709.7 2670 711.8 2669.2 713.7 2668.1 715.5 2666.6 717.4 2665.6 719.3 2664.4 721.1 2662.9 723 2662 724.9 2660.7 726.7 2659.2 728.6 2658.1 730.5 2656.7 732.4 2655.3 734.3 2653.7 736.2 2652.4 738.1 2651 740 2649.5 741.9 2648.7 743.7 2646.9 745.6 2645.3 747.4 2644 749.3 2642.5 751.1 2641.3 753 2639.8 754.8 2638.2 756.7 2637.1 758.6 2635.7 760.4 2634.2 762.3 2633.2 764.2 2631.4 766 2630.3 767.9 2629.2 769.8 2628 771.6 2626.3 773.5 2625 775.5 2624.5 777.5 2623 779.5 2621.7 781.5 2620.6 783.5 2619.7 785.6 2618.7 787.6 2617.7 789.6 2616.7 791.6 2616.5 793.6 2615.5 795.7 2614.1 797.8 2613.5 799.9 2612.8 802 2611.7 804 2610.5 806.1 2610.1 808.2 2609.6 810.3 2609.6 812.4 2609.1 814.5 2608.8 816.6 2608.8 818.7 2608.2 820.7 2609.2 822.7 2610.3 824.7 2611.5 826.7 2612.5 828.7 2613.4 830.7 2613.9 832.7 2614.7 834.7 2615.4 836.7 2616.1 838.7 2616.5 840.4 2615.6 842.1 2614.6 843.7 2613.2 845.4 2611.7 847.1 2610 849.1 2609.3 851.1 2607.8 853.1 2606.3 855.1 2605.4 857.1 2605.4 858.8 2605.9 860.5 2606.1 862.1 2607.2 863.8 2608.6 864.8 2609.9 865.8 2612.3 866.9 2615.1 867.9 2617.2 868.9 2618.8 870.9 2620.1 872.9 2621.3 874.1 2620.4 875.3 2618.4 876.5 2616.2 877.7 2614 878.9 2612 880.6 2610.1 882.2 2607.9 883.9 2606.3 885.6 2604.5 887.2 2603.3 888.9 2601.8 891.1 2600.9 893.2 2599.3 895.4 2597.9 897.5 2597 899.7 2595.8 901.8 2595.5 904 2594.2 906.1 2594.1 908.2 2593.2 910.3 2593.1 912.4 2592 914.4 2592 916.5 2591.7 918.6 2591 920.7 2590.9 923.1 2591.1 925.4 2591.4 927.8 2591.1 930.1 2591 932.5 2591.5 934.8 2592 937.2 2591.4 939.5 2592.3 941.9 2591.9 944.2 2591.6 946.4 2591.3 948.7 2590.8 950.9 2590 953.1 2588.8 955.4 2588 957.6 2587.9 960 2587.5 962.4 2587.5 964.8 2587.4 967.2 2587.5 969.6 2587.3 971.9 2586.8 974.3 2586.6 976.7 2587.2 979.1 2586.3 981.5 2586.3 983.9 2586.2 986.3 2586.9 988.7 2586.5 991.1 2586.8 993.5 2586.5 995.8 2586.2 998.2 2586.2 1000.6 2586.5 1003 2586 1005.4 2586.5 1007.8 2586.1 1010.2 2585.7 1012.6 2586 1015 2586.2 1017.4 2585.8 1019.7 2586.5 1022.1 2586.5 1024.5 2586.1 1026.9 2586.5 1029.3 2586.2 1031.7 2586.1 1034.1 2585.7 1036.5 2586.5 1038.9 2586.4 1041.2 2585.9 1043.6 2585.9 1046 2585.5 1048.4 2586.1 1050.8 2586.3 1053.2 2585.8 1055.6 2585.7 1058 2586 1060.4 2586.2 1062.8 2585.6 1065.1 2585.7 1067.5 2586 1069.9 2585.4 1072.3 2586.2 1074.7 2585.7 1077.1 2586.2 1079.5 2585.9 1081.9 2585.6 1084.3 2585.5 1086.7 2585.6 1089 2585.7 1091.4 2586.3 1093.8 2586.3 1096.2 2586.2 1098.6 2585.9 1101 2586.3 1103.4 2586.4 1105.8 2586.1 1108.2 2585.8 1110.6 2586.2 1112.9 2586 1115.3 2586 1117.7 2586.3 1120.1 2586 1122.5 2586.9 1124.9 2586.3 1127.2 2586.9 1129.5 2586.8 1131.8 2586.1 1134.1 2587.1 1136.3 2587 1138.6 2586.8 1140.9 2587.2 1143.2 2586.9 1145.5 2586.5 1147.8 2586.7 1150.1 2586.9 1152.4 2587.5 1154.7 2587.5 1157 2586.9 1159.2 2587.2 1161.5 2587 1163.8 2587.1 1166.1 2587.3 1168.4 2587.4 1170.8 2587.2 1173.1 2587.7 1175.5 2587.4 1177.9 2588.1 1180.2 2587.7 1182.6 2587.7 1185 2588 1187.4 2587.7 1189.7 2587.6 1192.1 2587.5 1194.5 2587.7 1196.8 2587.7 1199.2 2588.2 1201.6 2587.9 1203.9 2588.3 1206.3 2587.9 1208.7 2587.7 1211 2588 1213.4 2588.1 1215.8 2588.6 1218.2 2588 1220.5 2588 1222.9 2588 1225.3 2588.2 1227.6 2588.9 1230 2588.9 1232.4 2588.3 1234.7 2588.2 1237.1 2588.6 1239.5 2588.8 1241.9 2588.4 1244.2 2588.8 1246.6 2589.2 1249 2588.5 1251.3 2589.3 1253.7 2589.3 1256.1 2589.5 1258.5 2589.2 1260.8 2589.3 1263.2 2589.4 1265.6 2589.1 1267.9 2589.6 1270.3 2589.4 1272.7 2589.5 1275 2589.3 1277.4 2589.5 1279.8 2589.5 1282.2 2590.1 1284.5 2589.9 1286.9 2590.3 1289.3 2590.3 1291.7 2590.1 1294.1 2590.1 1296.5 2590.7 1298.9 2590.8 1301.3 2591 1303.7 2590.9 1306 2591.1 1308.4 2590.6 1310.8 2591 1313.2 2591.6 1315.6 2591.2 1318 2591 1320.4 2591.4 1322.7 2591.9 1325.1 2591.2 1327.4 2591.3 1329.7 2591.7 1332.1 2592.2 1334.4 2591.8 1336.7 2591.7 1339 2592.2 1341.4 2591.6 1343.7 2591.9 1346 2592.2 1348.4 2592.5 1350.7 2592.6 1353 2592.1 1355.4 2592.1 1357.7 2592.2 1360 2592 1362.3 2592.2 1364.7 2592.7 1367 2592.9 1369.3 2592.3 1371.7 2592.1 1374 2592.7 1376.3 2592.9 1378.6 2592.7 1380.9 2592.1 1383.3 2592.3 1385.6 2592.1 1387.9 2591.8 1390.2 2591.3 1392.5 2591.6 1394.8 2591.1 1397.2 2590.4 1399.5 2590.4 1401.8 2589.9 1404.1 2590.1 1406.5 2590.4 1408.9 2590 1411.3 2590 1413.7 2590.2 1416.1 2589.4 1418.4 2589.6 1420.8 2589.7 1423.2 2589.6 1425.6 2589.8 1428 2589.9 1430.4 2589.8 1432.8 2589.5 1435.2 2589.6 1437.6 2589.4 1440 2589.8 1442.3 2589.4 1444.7 2589.3 1447.1 2589.1 1449.5 2589.1 1451.9 2589.5 1454.3 2589.1 1456.7 2589.6 1459.1 2589.5 1461.5 2589.8 1463.9 2589.7 1466.3 2589.8 1468.7 2589.7 1471 2589.6 1473.4 2590.4 1475.8 2590.6 1478.2 2590.8 1480.6 2591 1483 2590.4 1485.4 2591.1 1487.8 2590.7 1490 2590.8 1492.2 2591.2 1494.5 2590.7 1496.7 2590.7 1498.9 2590.2 1501.2 2590.2 1503.4 2590.2 1505.6 2590.1 1507.8 2590.3 1510 2589.8 1512.3 2589.8 1514.5 2589.8 1516.7 2590.5 1519 2590.9 1521.2 2591.1 1523.4 2591.3 1525.7 2591.5 1527.9 2592.6 1530.1 2592.6 1532.4 2593.2 1534.6 2594.2 1536.6 2595.1 1538.6 2595.3 1540.6 2596.4 1542.6 2596.7 1544.7 2598.1 1546.7 2598.8 1548.7 2599.8 1550.7 2600.9 1552.7 2601.8 1554.7 2602.4 1556.6 2603.7 1558.5 2605 1560.4 2606.5 1562.4 2607.7 1564.3 2609.5 1566.2 2610.8 1568.1 2612.4 1569.8 2614.1 1571.4 2615.9 1573.1 2617.4 1574.8 2619 1576.5 2620.6 1578.1 2622.2 1579.8 2623.6 1581.5 2624.9 1583.1 2626.5 1584.8 2627.8 1586.5 2629.1 1588.1 2630.2 1589.8 2630.5 1591.9 2630.3 1594 2629.9 1596.1 2628.8 1598.2 2627.4 1599.9 2626.5 1601.5 2625.1 1603.2 2623.3 1604.9 2621.2 1606.5 2619 1608.2 2617.6 1609.9 2616.1 1611.6 2614.7 1613.3 2612.9 1614.9 2611.2 1616.6 2609.7 1618.3 2608.9 1620 2608.1 1622.1 2606.5 1624.3 2605.9 1626.4 2605.1 1628.6 2604.3 1630.7 2603.3 1632.9 2602.7 1635 2602.2 1637.2 2602.1 1639.5 2602.3 1641.7 2601.6 1643.9 2601.8 1646.2 2601.4 1648.4 2601 1650.6 2600.6 1652.9 2600.6 1655.1 2600.7 1657.3 2600.1 1659.6 2599.9 1661.8 2600.6 1663.9 2600.4 1666 2600.3 1668.1 2600.6 1670.2 2600.7 1672.2 2601.6 1674.3 2602.4 1676.4 2602.8 1678.5 2603.8 1679.9 2604.7 1681.3 2606.1 1682.7 2608.1 1684.1 2610 1685.3 2611.3 1686.4 2612.5 1687.6 2613.5 1688.5 2612.5 1689.4 2610.2 1690.4 2607.6 1691.3 2605.8 1693 2603.8 1694.7 2601.6 1696.4 2601.1 1698.2 2600.7 1700 2601.7 1701.8 2600.9 1703.6 2601.4 1705 2602.4 1706.3 2603.7 1707.7 2604.3 1709.5 2604.1 1711.2 2602.8 1713 2602 1714.8 2601.7 1716.8 2601.2 1718.9 2601.2 1720.9 2601.3 1723 2601.2 1725 2601.4 1727.1 2601.5 1728.8 2602.2 1730.6 2603.5 1732.3 2605.6 1734 2607.2 1735.7 2608.7 1736.6 2607.5 1737.6 2605.5 1738.5 2602.9 1739.4 2601.6 1741.5 2600.1 1743.5 2599.9 1745.5 2599.2 1747.6 2599.3 1749.7 2598.4 1751.7 2598.2 1753.8 2598.5 1755.8 2598 1757.9 2598 1759.9 2597.9 1762 2598.5 1764.4 2598.2 1766.8 2598.5 1769.2 2598.7 1771.5 2599 1773.9 2599 1776.3 2599.2 1778.4 2600 1780.4 2601.3 1782.5 2602.3 1784.5 2602.7 1786.6 2603.4 1788.6 2603.3 1790.7 2602.6 1792.7 2603 1794.8 2603 1796.8 2602.1 1798.9 2601.6 1800.9 2600.6 1803 2599.8 1804.7 2599.9 1806.4 2599.7 1808.1 2600.3 1809.3 2601.4 1810.4 2602.8 1811.6 2605.6 1811.8 2606.5 1812 2607.9 1812.3 2609.8 1812.5 2612.1 1812.7 2614.7 1812.9 2617.4 1813.2 2620.2 1813.4 2623.2 1813.6 2626.1 1813.7 2628 1813.9 2630 1814 2632.2 1814.1 2634.5 1814.3 2636.9 1814.4 2639.4 1814.5 2641.9 1814.7 2644.3 1814.8 2646.6 1814.9 2648.8 1815.1 2650.9 1815.2 2652.7 1815.4 2655.7 1815.7 2658.9 1815.9 2662.1 1816.1 2665.1 1816.3 2668.1 1816.6 2670.8 1816.8 2673.4 1817 2675.4 1817.2 2676.9 1817.5 2678 1817.7 2678.4 1818.1 2677.7 1818.5 2676.3 1818.9 2674.1 1819.2 2671.5 1819.6 2668.6 1820 2665.8 1820.4 2662.9 1820.7 2661.1 1820.9 2658.8 1821.2 2656.5 1821.5 2653.9 1821.8 2651.3 1822 2648.6 1822.3 2646.3 1822.6 2643.9 1822.9 2641.7 1823.1 2639.8 1823.4 2638.3 1824.1 2635.4 1824.8 2632.8 1825.5 2630.1 1826.1 2628.1 1826.8 2626.4 1827.5 2624.9 1828.8 2622.8 1830.1 2621 1831.4 2619.5 1832.7 2618.1 1834.5 2617.5 1836.2 2616.5 1838 2615.4 1839.8 2615.7 1841.8 2615.9 1843.9 2616 1846 2616.1 1848 2616.5 1850 2616.9 1852.1 2617.6 1854.2 2619.3 1856.2 2620.3 1858.1 2620.8 1859.9 2621.4 1861.8 2622.6 1863.6 2623.4 1865.5 2623.6 1867 2624.8 1868.5 2626.6 1870.1 2628 1871.6 2630.4 1872.4 2631.6 1873.3 2633.4 1874.2 2635.2 1875 2637.7 1875.8 2639.9 1876.7 2642.5 1877.3 2644.3 1877.8 2646.2 1878.4 2648.3 1879 2650.5 1879.5 2652.8 1880.1 2655.2 1880.7 2657.7 1881.2 2660.5 1881.8 2662.9 1882.2 2665 1882.6 2666.9 1883 2668.8 1883.4 2671 1883.8 2673.1 1884.2 2675.1 1884.6 2677.4 1885 2679.7 1885.4 2681.9 1885.8 2684.2 1886.2 2686.7 1886.6 2689.1 1887 2691.6 1887.3 2693.5 1887.6 2695.7 1888 2697.9 1888.3 2700 1888.6 2702.2 1888.9 2704.5 1889.2 2706.8 1889.5 2709.1 1889.9 2711.5 1890.2 2713.9 1890.5 2716.4 1890.8 2718.8 1891.1 2721.3 1891.5 2723.7 1891.8 2726.2 1892.1 2728.5 1892.4 2730.8 1892.7 2733 1893 2735.4 1893.3 2737.6 1893.6 2740 1893.9 2742.4 1894.2 2744.8 1894.4 2747.1 1894.7 2749.5 1895 2751.9 1895.3 2754.3 1895.6 2756.7 1895.9 2758.9 1896.2 2761.3 1896.5 2763.8 1896.8 2766.5 1897.1 2769.4 1897.4 2772.5 1897.7 2775.6 1898 2778.6 1898.2 2781.6 1898.5 2784.3 1898.8 2786.9 1899.1 2789.2 1899.4 2791.1 1899.7 2792.5 1900 2793.3 1900.3 2793.7 1900.6 2793.3 1901 2792.4 1901.3 2790.9 1901.7 2788.9 1902 2786.4 1902.3 2783.7 1902.7 2780.7 1903 2777.7 1903.4 2774.5 1903.7 2771.4 1904.1 2768.4 1904.4 2765.4 1904.6 2763.5 1904.9 2761.4 1905.1 2759.3 1905.3 2757.2 1905.5 2754.8 1905.8 2752.6 1906 2750.1 1906.2 2747.7 1906.5 2745.3 1906.7 2742.8 1906.9 2740.4 1907.1 2738 1907.4 2735.5 1907.6 2733.2 1907.8 2730.9 1908 2728.7 1908.3 2726.5 1908.5 2724.4 1908.8 2721.9 1909.1 2719.3 1909.3 2716.7 1909.6 2714.2 1909.9 2711.7 1910.2 2709.1 1910.5 2706.7 1910.8 2704.2 1911 2701.9 1911.3 2699.5 1911.6 2697.3 1911.9 2694.9 1912.2 2692.8 1912.5 2690.7 1912.8 2688.8 1913 2686.8 1913.3 2685.1 1913.6 2683.4 1914.1 2680.6 1914.6 2677.6 1915.1 2675 1915.6 2672.4 1916.2 2670.2 1916.7 2668 1917.2 2665.7 1917.7 2664 1918.2 2662.4 1918.7 2660.9 1919.7 2658.4 1920.8 2656.3 1921.8 2654.5 1922.9 2652.6 1923.9 2651.8 1925.6 2650.1 1927.3 2649.5 1929 2649.5 1931.3 2649.4 1933.6 2649.6 1935.9 2649.8 1938.2 2650.2 1940.5 2650 1942.8 2650.8 1945.1 2651.5 1947.4 2651.4 1948.7 2652.4 1950 2654.5 1951.2 2656.8 1952.5 2658.9 1953.4 2660.4 1954.3 2662.5 1955.2 2664.5 1956 2666.4 1956.9 2668.9 1957.8 2671 1958.7 2673.3 1959.5 2675.1 1960.2 2677.2 1961 2679.4 1961.8 2681.6 1962.5 2683.8 1963.3 2685.9 1964 2687.8 1964.8 2689.4 1965.8 2691.9 1966.9 2694.2 1967.9 2696.5 1968.9 2698.3 1969.9 2700.1 1971 2702.2 1972 2703.8 1973.4 2705.9 1974.8 2707.5 1976.1 2709.5 1977.5 2710.8 1978.9 2713.2 1979.7 2714.8 1980.5 2716.1 1981.4 2717.6 1982.2 2719.9 1983 2722.5 1983.3 2723.8 1983.7 2725.6 1984 2727.7 1984.3 2730 1984.7 2732.5 1985 2735.3 1985.4 2738 1985.7 2740.9 1985.9 2742.8 1986.1 2745.2 1986.4 2747.6 1986.6 2750.3 1986.8 2753 1987 2755.5 1987.3 2757.8 1987.5 2759.8 1987.7 2761.3 1988.2 2764.1 1988.7 2766.6 1989.2 2768.7 1989.7 2770.5 1990.2 2771.6 1991.8 2774.1 1993.5 2775.7 1995.1 2776.9 1996.8 2777.6 1998.4 2779.9 1999.2 2781.3 2000.1 2783 2001 2785.1 2001.8 2787.4 2002.7 2789.5 2003.5 2792.1 2004.1 2793.7 2004.7 2795.8 2005.3 2797.9 2005.8 2800.3 2006.4 2802.5 2007 2804.6 2007.6 2806.4 2008.3 2808.7 2009 2810.9 2009.7 2813 2010.3 2814.9 2011 2816.5 2011.7 2817.9 2013.4 2819.6 2015.1 2820.6 2016.8 2821.3 2018.8 2821 2020.9 2821 2022.9 2821.3 2025 2821.2 2027 2820.9 2029 2821 2031.1 2820.5 2033.2 2818.9 2035.2 2817.6 2036.8 2816.5 2038.5 2815.2 2040.1 2813.8 2041.8 2812.1 2043.4 2810.5 2044.6 2809.3 2045.7 2807.3 2046.9 2805.8 2048.1 2803.7 2049.3 2801.8 2050.4 2799.9 2051.6 2798.1 2052.9 2796.6 2054.2 2794.8 2055.5 2792.8 2056.8 2791.3 2058 2789.7 2059.3 2788.1 2060.6 2786.4 2061.9 2784.8 2063.4 2783 2064.8 2781.5 2066.3 2779.5 2067.7 2777.8 2069.2 2776.1 2070.6 2773.9 2072.1 2772.6 2073.8 2771 2075.5 2769 2077.2 2767.3 2079 2765.8 2080.7 2764.5 2082.4 2763.2 2084.4 2762.1 2086.5 2761.4 2088.5 2760.9 2090.1 2761.7 2091.6 2762.8 2093.1 2764.2 2094.7 2765.5 2096.4 2765.6 2098.1 2766.4 2099.8 2766.3 2101.2 2765.9 2102.7 2764 2104.1 2761.8 2105.6 2759.1 2107 2757.2 2108.5 2755.7 2110.1 2753.8 2111.6 2752.1 2113.1 2751.3 2115.2 2750.5 2117.2 2749.8 2119.3 2748.8 2121.3 2749 2123.4 2747.7 2125.4 2746.8 2127.5 2746 2129.5 2744.8 2131.6 2743.8 2133.6 2742.9 2135.7 2741.7 2137.7 2740.5 2139.8 2739.5 2141.8 2738.9 2143.6 2739.4 2145.4 2739.8 2147.2 2740.9 2149 2743.1 2149.6 2744 2150.2 2745.1 2150.8 2747.2 2151.3 2749.5 2151.9 2752.4 2152.5 2755 2152.7 2756.5 2152.9 2758.2 2153.2 2760.2 2153.4 2762.4 2153.6 2764.7 2153.8 2767.2 2154 2769.9 2154.2 2772.4 2154.4 2774.9 2154.7 2777.4 2154.9 2779.7 2155.1 2781.9 2155.4 2784.4 2155.6 2787.1 2155.9 2789.7 2156.2 2792.4 2156.4 2795 2156.7 2797.4 2157 2799.6 2157.3 2801.5 2157.5 2803.1 2157.8 2804.2 2158.6 2806.8 2159.4 2808.8 2160.2 2809.4 2161 2808.5 2161.8 2806.3 2162.5 2804 2163.3 2802.3 2164.6 2800.8 2165.9 2799.6 2167.2 2798.3" stroke="#0000ff" stroke-width="6.9"/>
<path class="cv" d="M264 3007.9 266.3 3008.3 268.5 3008.1 270.8 3007.9 273.1 3006.8 275.3 3007.2 277.6 3006.8 279.9 3006.8 282.2 3006.2 284.4 3006.1 286.7 3006.3 289 3006 291.2 3006.2 293.5 3005.6 295.8 3005.7 298.1 3006.5 300.3 3006.2 302.6 3006.3 304.9 3006.6 307.2 3006.2 309.5 3005.9 311.8 3006.8 314 3006.6 316.3 3006.8 318.6 3006.8 320.9 3007.2 323.2 3006.6 325.4 3007.1 327.7 3006.6 330 3006.9 332.3 3007 334.7 3006.6 337 3006.3 339.4 3006.8 341.7 3007.1 344 3007 346.4 3006.8 348.7 3007.1 351 3006.5 353.4 3006.5 355.7 3006.7 358.1 3007.3 360.4 3006.5 362.8 3006.4 365.2 3006.4 367.6 3006.3 370 3006.5 372.4 3006.8 374.7 3007.1 377.1 3006.4 379.5 3006.4 381.9 3006.3 384.3 3006.2 386.7 3006.7 389.1 3006.4 391.5 3005.9 393.9 3005.7 396.3 3006.4 398.6 3006.3 401 3006.4 403.4 3005.6 405.8 3006 408.2 3006.4 410.6 3006 413 3006.4 415.4 3005.5 417.8 3006.5 420.2 3005.4 422.6 3005.8 425 3005.4 427.4 3006.3 429.7 3006.2 432.1 3006.6 434.5 3006.4 436.9 3006.6 439.3 3006.2 441.7 3006.7 444.1 3006.5 446.4 3006.2 448.8 3007.1 451.1 3006.8 453.5 3007.1 455.8 3007.5 458.1 3008.4 460.5 3008.6 462.8 3009.9 465.2 3010.4 467.5 3009.9 469.7 3010 472 3010.7 474.2 3010.6 476.4 3011.2 478.7 3011.7 480.9 3011.3 483.1 3011.7 485.4 3012.4 487.6 3012 489.8 3012.1 492.1 3012.8 494.3 3012.9 496.7 3013.1 499.1 3012.9 501.5 3012.7 503.9 3013.1 506.3 3013.3 508.7 3013.2 511 3012.8 513.4 3012.9 515.8 3013.1 518.2 3013.6 520.6 3013.4 523 3013.5 525.4 3013.9 527.8 3013.1 530 3013.8 532.2 3013.6 534.5 3013.9 536.7 3014.3 538.9 3013.7 541.1 3014.6 543.4 3013.8 545.6 3014.5 547.8 3014.6 549.8 3014.7 551.8 3015.7 553.9 3016.4 555.9 3017.4 557.9 3018.8 559.6 3019.3 561.2 3021.1 562.9 3023 564.6 3024.4 566.2 3026.9 567.9 3028.4 569.2 3030.3 570.4 3031.7 571.7 3033.7 573 3035.6 574.2 3037.4 575.5 3039.8 576.7 3041.7 578 3043.8 579.1 3045.5 580.2 3047.4 581.3 3049.3 582.4 3051.1 583.6 3053.4 584.7 3054.8 585.8 3057.1 586.9 3058.9 588 3060.4 589.4 3062.7 590.9 3064.9 592.3 3067 593.7 3068.8 595.1 3070.7 596.6 3072.4 598 3073.7 600 3075.8 602 3076.8 604.1 3078.2 606.1 3079.1 608.1 3079.8 610.2 3079.1 612.2 3078.3 614.3 3076.7 616.4 3075.3 617.8 3073.9 619.3 3072.3 620.7 3070.3 622.2 3068.5 623.6 3066 625.1 3063.7 626.5 3062.1 628.2 3059.9 629.8 3058.4 631.5 3056.5 633.2 3055 634.9 3053 636.5 3052 638.2 3050.2 640.3 3049.4 642.4 3047.7 644.5 3045.9 646.5 3045.4 648.6 3043.8 650.7 3042.9 652.8 3041.8 654.9 3041.6 657 3040.1 659.2 3040.1 661.3 3039.1 663.4 3038.8 665.6 3037.9 667.7 3037.1 669.9 3037.5 672 3036.8 674.1 3035.8 676.3 3036.2 678.4 3035.7 680.6 3034.5 682.9 3033.9 685.1 3034.2 687.3 3033.3 689.5 3033.5 691.8 3032.9 694 3032.8 696.2 3032.3 698.4 3032.2 700.6 3031.9 702.9 3031.4 705.1 3031.1 707.5 3030.5 709.8 3030 712.1 3029.6 714.5 3030.1 716.9 3029.1 719.2 3029.1 721.6 3028.7 723.9 3028.9 726.2 3028.7 728.6 3029 730.9 3028.5 733.2 3028.4 735.4 3028.8 737.7 3028.9 740 3029.1 742.2 3028.5 744.5 3029.5 746.7 3030 748.9 3030.4 751.2 3029.8 753.4 3030.2 755.4 3030.5 757.4 3030.4 759.4 3029.3 761.4 3029.6 763.4 3029.9 765.6 3030.5 767.9 3031.4 770.1 3031.7 771.8 3031.4 773.5 3029.8 775.1 3028.4 776.8 3027.1 778.5 3026.6 780.8 3026 783.1 3025.4 785.4 3025 787.7 3024.9 790 3025.1 792.3 3024.6 794.6 3024.2 796.9 3024.7 799.2 3024.1 801.6 3024.3 803.9 3023.5 806.3 3023.2 808.6 3022.7 810.9 3022.6 813.3 3022.7 815.6 3022.6 818 3022.1 820.3 3021.8 822.5 3021.4 824.8 3022.3 827 3021.8 829.2 3021.8 831.5 3021.5 833.7 3021.5 835.9 3022 838.2 3022.8 840.4 3022.6 842.6 3022.6 844.9 3022.7 847.1 3022.3 849.3 3022.5 851.6 3023.3 853.8 3023.2 856 3024.2 858.3 3024.5 860.5 3024.6 862.7 3024.1 865 3023.7 867.2 3023.7 869.4 3022.8 871.7 3022.8 873.9 3021.9 876.1 3021.8 878.4 3021.6 880.6 3021.3 882.9 3021.2 885.2 3020.8 887.5 3020.9 889.9 3021.7 892.2 3020.8 894.5 3020.8 896.8 3021.1 899.1 3021.1 901.4 3021.4 903.8 3020.8 906.1 3021.6 908.4 3020.5 910.7 3021.4 913 3021.1 915.3 3021.5 917.6 3020.6 920 3021.2 922.3 3021.5 924.6 3021.2 926.9 3020.5 929.2 3021.5 931.5 3021.5 933.9 3020.5 936.2 3021.3 938.5 3020.4 940.8 3020.4 943.2 3021.2 945.6 3021.1 948 3021.3 950.4 3020.9 952.8 3020.7 955.2 3020.3 957.5 3020.6 959.9 3021 962.3 3020.6 964.7 3020.8 967.1 3019.9 969.5 3020.5 971.9 3020.5 974.3 3019.7 976.5 3020.6 978.8 3019.9 981 3020.1 983.2 3020.1 985.5 3021 987.7 3020.5 989.9 3021.6 992.2 3020.6 994.4 3021.6 996.7 3021.5 999.1 3021.1 1001.4 3021 1003.8 3021 1006.1 3020.6 1008.4 3019.8 1010.8 3020.3 1013.1 3019.7 1015.5 3019.8 1017.8 3019.6 1020.1 3020 1022.4 3019.4 1024.7 3019.9 1027 3019 1029.2 3019.2 1031.5 3019.6 1033.8 3019.5 1036.1 3019.7 1038.4 3019 1040.7 3019.7 1043 3019.6 1045.3 3018.8 1047.6 3018.8 1049.9 3019.3 1052.1 3019.8 1054.4 3019.3 1056.7 3019.1 1059 3019.2 1061.3 3019.6 1063.5 3019.3 1065.6 3019.6 1067.8 3020.1 1069.9 3020.9 1072.1 3021.1 1074.2 3021.5 1076.4 3020.9 1078.7 3021.2 1081 3021.2 1083.3 3020.7 1085.6 3020.6 1087.9 3020.1 1090.2 3018.8 1092.5 3019 1094.8 3018.7 1097.2 3018.6 1099.6 3018.9 1102 3019.6 1104.3 3019.4 1106.7 3018.6 1109.1 3018.9 1111.5 3019.1 1113.9 3019.8 1116.3 3019.3 1118.7 3019.1 1121 3019.6 1123.4 3019.3 1125.8 3019 1128.2 3019.7 1130.5 3020.1 1132.9 3019.7 1135.2 3019.4 1137.6 3018.5 1140 3018.7 1142.3 3018.5 1144.7 3018.3 1147 3017.7 1149.4 3017.1 1151.7 3018.1 1154 3017.3 1156.4 3017.9 1158.7 3017.6 1161.1 3017.9 1163.4 3017.4 1165.7 3017.1 1168.1 3017.5 1170.4 3017.6 1172.8 3018 1175.1 3017.5 1176.8 3018.3 1178.4 3019 1180.1 3019.8 1181.5 3018.6 1182.9 3017.7 1184.4 3016.3 1185.8 3014.8 1187.7 3016.2 1189.7 3017.5 1191.6 3018.8 1193.5 3018.8 1195.7 3019.4 1197.8 3019.2 1200 3018.7 1202.1 3018.8 1204.3 3018.4 1206.4 3017.8 1208.6 3018.1 1211 3017.2 1213.4 3017.5 1215.7 3017.9 1218.1 3018 1220.5 3018.7 1222.9 3018.5 1225.2 3018.6 1227.6 3018.7 1230 3019.1 1232.2 3018.1 1234.5 3017.6 1236.7 3017 1238.7 3017.3 1240.7 3018.3 1242.8 3019.4 1244.8 3020.3 1246.8 3021 1248.8 3020.6 1250.8 3019.4 1252.8 3018.5 1254.8 3017.3 1256.8 3017.3 1259.1 3017 1261.4 3016.7 1263.7 3016.8 1266.1 3015.9 1268.4 3015.6 1270.7 3016.1 1273 3015.5 1275.3 3016.3 1277.6 3015.6 1280 3016.1 1282.3 3015.3 1284.6 3015.1 1286.9 3015.7 1289.3 3015.8 1291.7 3015.3 1294.1 3016.2 1296.5 3016.3 1298.9 3016 1301.3 3016.4 1303.7 3016.5 1306 3015.5 1308.4 3016.3 1310.8 3016.4 1313.2 3016.4 1315.6 3016 1318 3016.2 1320.4 3016.3 1322.8 3016.6 1325.2 3015.7 1327.6 3016 1330 3015.9 1332.3 3016.5 1334.7 3015.6 1337.1 3015.5 1339.5 3015.5 1341.9 3015.5 1344.3 3015.8 1346.7 3016.3 1349.1 3015.6 1351.5 3015.3 1353.8 3015.9 1356.2 3015.4 1358.6 3015.6 1361 3015.7 1363.4 3015.3 1365.8 3015.6 1368.2 3015.4 1370.6 3015.6 1373 3015.4 1375.4 3015.5 1377.7 3015.2 1380.1 3014.6 1382.5 3014.8 1384.9 3015 1387.3 3014.9 1389.7 3014.8 1392.1 3014.8 1394.5 3014.7 1396.9 3014.3 1399.3 3014.3 1401.7 3013.5 1404.1 3013.9 1406.5 3014.1 1408.9 3014.2 1411.3 3014.1 1413.6 3013.5 1416 3013.1 1418.4 3013.8 1420.8 3013.4 1423.2 3012.8 1425.6 3012.5 1428 3013.3 1430.4 3012.9 1432.8 3012.2 1435.2 3013.2 1437.6 3012.6 1439.9 3012.7 1442.2 3012.7 1444.5 3012 1446.8 3012.2 1449 3011.7 1451.3 3012.1 1453.6 3011.9 1455.9 3012.2 1458.2 3011.3 1460.5 3011.4 1462.8 3011.5 1465.1 3011 1467.4 3011.4 1469.7 3011.9 1471.9 3011.7 1474.2 3010.8 1476.5 3011.5 1478.8 3010.7 1481.1 3010.6 1483.4 3010.9 1485.8 3010.4 1488.1 3010.1 1490.5 3009.8 1492.8 3009.7 1495.1 3009.5 1497.5 3010.2 1499.8 3009.1 1502.2 3009.6 1504.5 3009.2 1506.6 3009.8 1508.7 3009.2 1510.8 3009.9 1512.8 3010.7 1514.9 3010.3 1517 3011.1 1519.1 3011.4 1521.2 3011.9 1523.5 3012.3 1525.9 3012 1528.2 3013.1 1530.6 3012.8 1532.9 3013.9 1534.2 3014 1535.6 3015.3 1536.9 3017.1 1538.3 3019.2 1539.6 3021.7 1540.2 3023.3 1540.9 3025.2 1541.5 3027.9 1542.1 3030.3 1542.7 3032.7 1543.4 3035.1 1544 3037.1 1545 3039.3 1545.9 3041.8 1546.8 3044.4 1547.8 3046.1 1548.8 3048.2 1549.7 3049.8 1551.4 3052 1553 3053 1554.7 3054.7 1556.3 3056 1558 3057.8 1559.4 3058.9 1560.8 3061.1 1562.2 3063 1563.6 3064.3 1565 3065.9 1566.4 3067.3 1568.1 3068.9 1569.7 3070.1 1571.4 3070.4 1573.1 3069.5 1574.8 3068.6 1576.4 3066.7 1578.1 3064.6 1579.2 3062.7 1580.3 3061 1581.4 3058.5 1582.6 3056 1583.7 3054 1584.8 3051.8 1586.2 3049.7 1587.6 3048.1 1589 3045.5 1590.4 3044.4 1591.8 3042.7 1593.2 3042.1 1595.3 3041.5 1597.4 3041.1 1599.5 3039.8 1601.6 3039.1 1603.6 3039.2 1605.7 3038.6 1607.8 3038.7 1609.9 3038.3 1611.9 3038.8 1613.9 3040.3 1616 3041.2 1618 3042.9 1620 3044.2 1622.1 3045.1 1624.2 3047 1626.2 3048 1628.3 3047.6 1630.4 3048.2 1632.5 3047.1 1634.6 3047.2 1636.7 3045.9 1638.8 3045.6 1640.9 3044.3 1643 3042.4 1645.1 3041.7 1646.5 3042.6 1648 3044.7 1649.4 3047.2 1649.8 3048.4 1650.3 3051.2 1650.7 3054.2 1651.1 3057.5 1651.5 3060.4 1652 3062.2 1652.4 3063.2 1653 3062.2 1653.5 3060.5 1654.1 3058.1 1654.7 3055.2 1655.2 3052.5 1655.8 3050.3 1656.5 3048 1657.2 3045.9 1657.9 3043.4 1658.7 3041.4 1659.4 3039.9 1660.1 3038.6 1662 3037.1 1664 3035.4 1665.9 3034.1 1667.9 3032.8 1669.8 3032.2 1671.8 3031.6 1673.8 3032.1 1675.9 3032.6 1678 3033.5 1680 3034.1 1681.4 3034.9 1682.7 3037.3 1684.1 3039.6 1685.3 3042 1686.4 3044.2 1687.6 3045.1 1688.5 3044.5 1689.4 3041.9 1690.4 3039.9 1691.3 3038.4 1693 3037.4 1694.7 3036.2 1696.4 3035.4 1698.2 3035.6 1700 3036.1 1701.8 3037.7 1703.6 3038.7 1705.1 3039.3 1706.7 3040.6 1708.2 3042.6 1709.7 3044.3 1710.7 3046.4 1711.8 3048.6 1712.8 3050.9 1713.8 3052.8 1715.3 3054.3 1716.9 3055.3 1717.7 3054.7 1718.5 3053.2 1719.4 3050.5 1720.2 3048.3 1721 3046.5 1722.3 3044.3 1723.5 3042.3 1724.8 3040.8 1726.1 3039.2 1727.8 3038.6 1729.5 3037.6 1731.2 3037.5 1732.9 3038.2 1734.7 3039.8 1736.4 3040.2 1738.2 3040.1 1740 3038.6 1741.7 3037.6 1743.5 3036.5 1745.6 3035.7 1747.6 3035.9 1749.7 3034.7 1751.7 3034.1 1753.8 3034 1755.8 3034.3 1757.9 3033.3 1759.9 3033.5 1762 3032.4 1764 3032.1 1766.1 3032 1768.1 3031 1770.2 3031.2 1772.2 3031.7 1774.2 3031.5 1776.3 3031.3 1778.3 3032.1 1780.4 3032.1 1782.5 3032.8 1784.5 3032.7 1786 3033.7 1787.6 3035.3 1789.2 3036.7 1790.7 3037.2 1792.7 3036.1 1794.8 3035.4 1796.8 3034.7 1798.8 3034.6 1800.9 3034.5 1802.9 3035.3 1805 3034.6 1807 3035 1809.1 3034.7 1810.5 3036.2 1811.8 3038 1813.2 3040.2 1813.7 3042.3 1814.2 3044.8 1814.7 3047.5 1815.2 3050.1 1815.7 3051.8 1816.8 3053.6 1817.8 3055.4 1818.9 3056 1820.4 3054.6 1821.9 3052.5 1823.4 3050.8 1825.5 3049.7 1827.5 3049.4 1829.5 3048.5 1831.6 3048.4 1833.9 3048.1 1836.2 3048.3 1838.4 3049 1840.7 3048.6 1843 3048.9 1845.3 3049 1847.5 3048.8 1849.8 3048.4 1852.1 3049.2 1854.1 3047.9 1856.2 3047.8 1858.2 3047.8 1860.3 3047.4 1862.4 3047.4 1864.4 3048.6 1866.5 3049.6 1867.9 3051 1869.2 3052.6 1870.6 3053.9 1872.6 3053.7 1874.7 3053.4 1876.7 3052.7 1878.8 3053.6 1880.8 3054.5 1882.9 3055.5 1884.1 3056.9 1885.3 3058.1 1886.6 3060.1 1887.8 3061.8 1889 3064.3 1889.8 3065.6 1890.7 3067.8 1891.5 3069.9 1892.4 3072 1893.2 3074.3 1894.1 3076.2 1894.9 3078.3 1895.7 3080.5 1896.6 3082.8 1897.4 3084.4 1898.2 3085.3 1900.3 3086.7 1902.3 3087.2 1904.4 3088.6 1904.7 3089.4 1905 3091.2 1905.3 3093.5 1905.5 3096.1 1905.8 3098.7 1906.1 3101.1 1906.4 3103 1906.9 3106.1 1907.5 3109 1908 3111.2 1908.5 3112.1 1909.2 3111.2 1909.8 3109.1 1910.4 3106.3 1911.1 3103 1911.3 3101.6 1911.6 3099.7 1911.8 3097.6 1912 3095.2 1912.2 3092.6 1912.5 3090 1912.7 3087.4 1912.9 3084.9 1913.1 3082.3 1913.4 3080.2 1913.6 3078.4 1914 3075.9 1914.3 3073.2 1914.7 3070.6 1915 3068.5 1915.4 3066.5 1915.7 3065 1916.1 3064.1 1917.2 3062.1 1918.2 3061.6 1918.8 3062.5 1919.4 3064.1 1920 3066.9 1920.6 3069.8 1920.7 3071.1 1920.9 3072.6 1921 3074.5 1921.2 3076.8 1921.3 3079.2 1921.5 3081.9 1921.6 3084.7 1921.7 3087.7 1921.9 3090.5 1922 3093.4 1922.2 3096.1 1922.3 3098.6 1922.5 3101 1922.6 3102.9 1922.8 3105.8 1923 3108.7 1923.2 3111.7 1923.4 3114.7 1923.7 3117.4 1923.9 3119.9 1924.1 3122 1924.3 3123.6 1924.5 3124.7 1924.7 3125.2 1925 3124.8 1925.3 3123.5 1925.5 3121.8 1925.8 3119.5 1926.1 3116.8 1926.4 3113.9 1926.6 3110.9 1926.9 3107.8 1927.2 3105 1927.4 3103 1927.5 3100.9 1927.7 3098.6 1927.9 3096.1 1928.1 3093.3 1928.2 3090.6 1928.4 3087.8 1928.6 3085.1 1928.8 3082.3 1928.9 3079.8 1929.1 3077.3 1929.3 3075.1 1929.5 3073 1929.6 3071.3 1929.8 3070 1930.3 3066.9 1930.8 3063.9 1931.3 3061.1 1931.8 3058.9 1932.3 3057 1932.8 3055.6 1933.3 3054.9 1935.4 3052.9 1937.5 3052.5 1937.8 3053.2 1938.2 3054.7 1938.5 3056.8 1938.9 3059.6 1939.2 3062.7 1939.6 3066.1 1939.7 3067.3 1939.8 3068.7 1939.9 3070.4 1940 3072.4 1940.1 3074.6 1940.2 3076.8 1940.3 3079.3 1940.4 3081.8 1940.5 3084.5 1940.7 3087.1 1940.8 3089.9 1940.9 3092.7 1941 3095.4 1941.1 3098.1 1941.2 3100.8 1941.3 3103.2 1941.4 3105.7 1941.5 3107.9 1941.6 3110 1941.7 3112.8 1941.9 3115.6 1942 3118.7 1942.2 3121.7 1942.3 3124.8 1942.4 3127.7 1942.6 3130.5 1942.7 3133 1942.8 3135.3 1943 3137.1 1943.1 3138.5 1943.3 3139.5 1943.4 3139.8 1943.6 3139.5 1943.7 3138.6 1943.9 3137.1 1944 3135.1 1944.2 3132.9 1944.4 3130.3 1944.5 3127.5 1944.7 3124.5 1944.9 3121.4 1945 3118.4 1945.2 3115.4 1945.3 3112.6 1945.5 3110 1945.6 3107.8 1945.8 3105.3 1945.9 3102.8 1946.1 3100.1 1946.2 3097.3 1946.4 3094.6 1946.5 3091.9 1946.7 3089.2 1946.8 3086.5 1946.9 3083.9 1947.1 3081.5 1947.2 3079.2 1947.4 3077.1 1947.5 3075.2 1947.7 3073.5 1947.8 3072.3 1948.2 3068.8 1948.7 3065.5 1949.1 3062.9 1949.5 3060.3 1949.9 3058.4 1950.4 3056.9 1950.8 3055.7 1952.1 3053.5 1953.4 3051.7 1954.7 3050.6 1956 3050.2 1957.8 3050.1 1959.6 3049.3 1961.4 3049.4 1963.2 3049.3 1965.2 3049.8 1967.3 3050.6 1969.4 3051.9 1971.4 3051.9 1973.3 3053.4 1975.2 3053.5 1977.1 3054.9 1979 3056.2 1980.9 3057.9 1981.7 3058.8 1982.5 3060.6 1983.2 3063.2 1984 3066.1 1984.4 3068.2 1984.9 3070.8 1985.3 3073.7 1985.8 3076.4 1986.2 3079.1 1986.7 3081.3 1987.1 3082.4 1988.7 3084.7 1990.2 3085.5 1992.2 3085.5 1994.3 3085 1996.4 3085.5 1998.4 3084.7 2000.5 3085 2002.5 3085.4 2004.5 3086.3 2006.6 3087.2 2007.8 3088.7 2009 3089.9 2010.3 3092 2011.5 3094.3 2012.7 3096 2014.2 3097.6 2015.8 3099.8 2017.4 3101.7 2018.9 3103.1 2020.3 3104.1 2021.6 3105.1 2023 3105.8 2024.5 3108 2026 3109.3 2027.7 3108.6 2029.4 3107.7 2031.1 3107 2033.1 3106.7 2035.2 3106.8 2037.2 3107 2039.3 3107.5 2041.4 3107.6 2043.4 3108.2 2045.3 3107.7 2047.1 3105.9 2049 3104 2050.8 3102 2052.7 3100.6 2055 3100.6 2057.3 3100.2 2059.6 3099.2 2061.9 3098.7 2063.3 3098.1 2064.6 3096.6 2066 3094.4 2067.4 3092.6 2068.7 3090.8 2070.1 3089.6 2072.1 3088.3 2074.2 3086.4 2076.2 3086 2077.9 3086.8 2079.7 3087 2081.4 3088.3 2082.1 3089.7 2082.8 3091.2 2083.4 3093.2 2084.1 3095.6 2084.8 3098 2085.5 3101 2085.9 3102.5 2086.3 3104.4 2086.7 3106.6 2087.1 3108.6 2087.5 3110.9 2087.9 3113.2 2088.3 3115.7 2088.7 3118.3 2089.1 3120.9 2089.5 3123.3 2089.8 3125.4 2090.1 3127.6 2090.4 3129.8 2090.8 3132.2 2091.1 3134.5 2091.4 3137 2091.7 3139.5 2092 3142.1 2092.3 3144.4 2092.7 3146.9 2093 3149.3 2093.3 3151.8 2093.6 3154.1 2093.9 3156.5 2094.2 3159.1 2094.5 3161.5 2094.9 3163.8 2095.2 3166.4 2095.5 3168.7 2095.8 3171.2 2096.1 3173.7 2096.4 3176 2096.8 3178.4 2097.1 3180.5 2097.4 3182.8 2097.7 3184.8 2098.1 3187.4 2098.5 3190.2 2098.9 3192.9 2099.3 3195.4 2099.6 3197.8 2100 3200.2 2100.4 3202.3 2100.8 3203.9 2101.2 3205.5 2102.2 3208.1 2103.3 3210.8 2104.3 3211.8 2105.2 3210.8 2106.2 3209.2 2107.1 3206.2 2108 3203.5 2108.3 3202.1 2108.7 3200.5 2109 3198.5 2109.4 3196.3 2109.7 3194 2110.1 3191.3 2110.4 3188.6 2110.7 3186.1 2111.1 3183.7 2111.4 3181.1 2111.8 3178.8 2112.1 3176.7 2112.5 3174.1 2112.9 3171.9 2113.4 3169.4 2113.8 3167 2114.2 3164.6 2114.6 3162.4 2115.1 3160 2115.5 3157.9 2115.9 3155.9 2116.3 3153.7 2116.8 3152 2117.2 3150.1 2117.9 3147.3 2118.6 3144.6 2119.3 3142.2 2120 3139.7 2120.6 3137.3 2121.3 3135.5 2122 3133.4 2122.7 3131.5 2123.4 3129.7 2124.4 3127.1 2125.4 3125 2126.4 3122.4 2127.5 3120.5 2128.5 3118.8 2129.5 3117.4 2131.1 3114.9 2132.8 3113 2134.4 3112 2136.1 3109.9 2137.7 3109.3 2139.8 3107.9 2141.8 3107.5 2143.8 3106.5 2145.9 3105 2147.4 3103.4 2148.9 3101.6 2150.4 3100.3 2151.1 3100.9 2151.9 3103.1 2152.6 3105.4 2153.4 3108.4 2154.1 3111.1 2154.5 3113 2155 3115.5 2155.4 3118.3 2155.9 3121.4 2156.3 3124 2156.8 3126 2157.2 3127.5 2158.2 3130 2159.2 3131.4 2160.2 3131.9 2161.2 3130.9 2162.3 3128.3 2163.3 3126.5 2164.6 3124.9 2165.9 3124.2 2167.2 3122.9" stroke="#ff0000" stroke-width="6.9"/>
<line x1="604.1" y1="2303.5" x2="604.1" y2="2244.3" stroke="#000" stroke-width="2.9"/><polygon points="604.1,2209.1 612.1,2244.3 596.1,2244.3" fill="#000" stroke="#000" stroke-width="2.9" stroke-linejoin="miter" stroke-miterlimit="3"/>
<line x1="1688" y1="2305" x2="1688" y2="2224.6" stroke="#000" stroke-width="3.9"/><polygon points="1688,2189.4 1696,2224.6 1680,2224.6" fill="#000" stroke="#000" stroke-width="3.9" stroke-linejoin="miter" stroke-miterlimit="3"/>
<line x1="1947.4" y1="2386.3" x2="1933" y2="2307" stroke="#000" stroke-width="3.9"/><polygon points="1926.7,2272.4 1940.9,2305.6 1925.1,2308.4" fill="#000" stroke="#000" stroke-width="3.9" stroke-linejoin="miter" stroke-miterlimit="3"/>
<line x1="2103.1" y1="2468.9" x2="2103.1" y2="2422.4" stroke="#000" stroke-width="3.9"/><polygon points="2103.1,2387.2 2111.1,2422.4 2095.1,2422.4" fill="#000" stroke="#000" stroke-width="3.9" stroke-linejoin="miter" stroke-miterlimit="3"/>
<line x1="622.5" y1="2768.8" x2="622.5" y2="2729.5" stroke="#000" stroke-width="2.9"/><polygon points="622.5,2694.3 630.5,2729.5 614.5,2729.5" fill="#000" stroke="#000" stroke-width="2.9" stroke-linejoin="miter" stroke-miterlimit="3"/>
<line x1="1590.5" y1="2712.9" x2="1590.5" y2="2673.4" stroke="#000" stroke-width="2.9"/><polygon points="1590.5,2638.2 1598.5,2673.4 1582.5,2673.4" fill="#000" stroke="#000" stroke-width="2.9" stroke-linejoin="miter" stroke-miterlimit="3"/>
<line x1="1817.5" y1="2806" x2="1817.5" y2="2724.7" stroke="#000" stroke-width="5"/><polygon points="1817.5,2689.5 1825.5,2724.7 1809.5,2724.7" fill="#000" stroke="#000" stroke-width="5" stroke-linejoin="miter" stroke-miterlimit="3"/>
<line x1="1992.5" y1="2891.5" x2="1930.7" y2="2826.1" stroke="#000" stroke-width="4.2"/><polygon points="1906.5,2800.6 1936.5,2820.7 1924.9,2831.6" fill="#000" stroke="#000" stroke-width="4.2" stroke-linejoin="miter" stroke-miterlimit="3"/>
<line x1="1627.8" y1="3173.4" x2="1627.8" y2="3094" stroke="#000" stroke-width="3.9"/><polygon points="1627.8,3058.8 1635.8,3094 1619.8,3094" fill="#000" stroke="#000" stroke-width="3.9" stroke-linejoin="miter" stroke-miterlimit="3"/>
<line x1="1868.6" y1="3180.3" x2="1868.6" y2="3100.9" stroke="#000" stroke-width="3.9"/><polygon points="1868.6,3065.7 1876.6,3100.9 1860.6,3100.9" fill="#000" stroke="#000" stroke-width="3.9" stroke-linejoin="miter" stroke-miterlimit="3"/>
<text class="b" font-size="99" transform="translate(119 3131.58) rotate(-90) scale(0.9732 1)">Transmittance (a.u.)</text>
<g transform="translate(786.31 3635.2) scale(0.9602 1)"><text class="b" font-size="98.5">Wavenumber (cm<tspan font-size="60.02" x="820.82" y="-54">-1</tspan><tspan x="873.53" y="0">)</tspan></text><rect class="m" x="842.78" y="-61.93" width="12.03" height="9.73"/><rect class="m" x="863.05" y="-61.93" width="11.27" height="9.73"/></g>
<text class="s" font-size="86" transform="translate(1157.24 3765) scale(0.9944 1)">(<tspan class="sb">b</tspan>)</text>
</g>
</svg>
</body></html>
